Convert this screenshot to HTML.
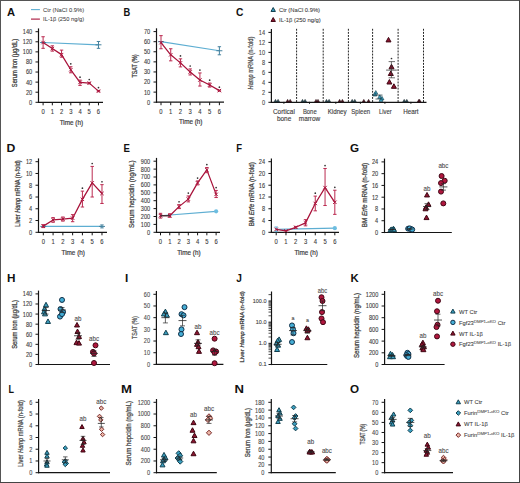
<!DOCTYPE html>
<html><head><meta charset="utf-8"><style>
html,body{margin:0;padding:0;background:#fff;}
svg{display:block;}
text{font-family:"Liberation Sans", sans-serif;}
</style></head><body>
<svg width="520" height="483" viewBox="0 0 520 483">
<rect x="0" y="0" width="520" height="483" fill="#fff"/>
<text transform="translate(6.92 15.7) scale(1.016 1)" x="0" y="0" font-size="11.0" fill="#111" font-weight="bold">A</text>
<text transform="translate(123.57 15.7) scale(0.849 1)" x="0" y="0" font-size="11.0" fill="#111" font-weight="bold">B</text>
<text transform="translate(235.98 15.8) scale(0.931 1)" x="0" y="0" font-size="11.0" fill="#111" font-weight="bold">C</text>
<line x1="31" y1="9.6" x2="39.9" y2="9.6" stroke="#5eaed2" stroke-width="1.1" />
<text x="43.1" y="11.8" font-size="6.1" text-anchor="start" fill="#404040" stroke="#404040" stroke-width="0.05" textLength="41" lengthAdjust="spacingAndGlyphs">Ctr (NaCl 0.9%)</text>
<line x1="31" y1="19.1" x2="39.9" y2="19.1" stroke="#a8123a" stroke-width="1.1" />
<text x="43.1" y="21.3" font-size="6.1" text-anchor="start" fill="#404040" stroke="#404040" stroke-width="0.05" textLength="41" lengthAdjust="spacingAndGlyphs">IL-1β (250 ng/g)</text>
<line x1="38.5" y1="28.4" x2="38.5" y2="102.9" stroke="#141414" stroke-width="1.2" />
<line x1="37.9" y1="102.3" x2="103" y2="102.3" stroke="#141414" stroke-width="1.2" />
<line x1="35.5" y1="102.3" x2="38.5" y2="102.3" stroke="#141414" stroke-width="1.0" />
<text x="32.2" y="104.75" font-size="7.0" text-anchor="end" fill="#3c3c3c" stroke="#3c3c3c" stroke-width="0.12" textLength="3.11" lengthAdjust="spacingAndGlyphs">0</text>
<line x1="35.5" y1="92.21" x2="38.5" y2="92.21" stroke="#141414" stroke-width="1.0" />
<text x="32.2" y="94.66" font-size="7.0" text-anchor="end" fill="#3c3c3c" stroke="#3c3c3c" stroke-width="0.12" textLength="6.23" lengthAdjust="spacingAndGlyphs">20</text>
<line x1="35.5" y1="82.13" x2="38.5" y2="82.13" stroke="#141414" stroke-width="1.0" />
<text x="32.2" y="84.58" font-size="7.0" text-anchor="end" fill="#3c3c3c" stroke="#3c3c3c" stroke-width="0.12" textLength="6.23" lengthAdjust="spacingAndGlyphs">40</text>
<line x1="35.5" y1="72.04" x2="38.5" y2="72.04" stroke="#141414" stroke-width="1.0" />
<text x="32.2" y="74.49" font-size="7.0" text-anchor="end" fill="#3c3c3c" stroke="#3c3c3c" stroke-width="0.12" textLength="6.23" lengthAdjust="spacingAndGlyphs">60</text>
<line x1="35.5" y1="61.96" x2="38.5" y2="61.96" stroke="#141414" stroke-width="1.0" />
<text x="32.2" y="64.41" font-size="7.0" text-anchor="end" fill="#3c3c3c" stroke="#3c3c3c" stroke-width="0.12" textLength="6.23" lengthAdjust="spacingAndGlyphs">80</text>
<line x1="35.5" y1="51.87" x2="38.5" y2="51.87" stroke="#141414" stroke-width="1.0" />
<text x="32.2" y="54.32" font-size="7.0" text-anchor="end" fill="#3c3c3c" stroke="#3c3c3c" stroke-width="0.12" textLength="9.34" lengthAdjust="spacingAndGlyphs">100</text>
<line x1="35.5" y1="41.79" x2="38.5" y2="41.79" stroke="#141414" stroke-width="1.0" />
<text x="32.2" y="44.24" font-size="7.0" text-anchor="end" fill="#3c3c3c" stroke="#3c3c3c" stroke-width="0.12" textLength="9.34" lengthAdjust="spacingAndGlyphs">120</text>
<line x1="35.5" y1="31.7" x2="38.5" y2="31.7" stroke="#141414" stroke-width="1.0" />
<text x="32.2" y="34.15" font-size="7.0" text-anchor="end" fill="#3c3c3c" stroke="#3c3c3c" stroke-width="0.12" textLength="9.34" lengthAdjust="spacingAndGlyphs">140</text>
<line x1="43.1" y1="102.3" x2="43.1" y2="105.3" stroke="#141414" stroke-width="1.0" />
<text x="43.1" y="114.2" font-size="7.0" text-anchor="middle" fill="#3c3c3c" stroke="#3c3c3c" stroke-width="0.12" textLength="3.27" lengthAdjust="spacingAndGlyphs">0</text>
<line x1="52.33" y1="102.3" x2="52.33" y2="105.3" stroke="#141414" stroke-width="1.0" />
<text x="52.33" y="114.2" font-size="7.0" text-anchor="middle" fill="#3c3c3c" stroke="#3c3c3c" stroke-width="0.12" textLength="3.27" lengthAdjust="spacingAndGlyphs">1</text>
<line x1="61.56" y1="102.3" x2="61.56" y2="105.3" stroke="#141414" stroke-width="1.0" />
<text x="61.56" y="114.2" font-size="7.0" text-anchor="middle" fill="#3c3c3c" stroke="#3c3c3c" stroke-width="0.12" textLength="3.27" lengthAdjust="spacingAndGlyphs">2</text>
<line x1="70.79" y1="102.3" x2="70.79" y2="105.3" stroke="#141414" stroke-width="1.0" />
<text x="70.79" y="114.2" font-size="7.0" text-anchor="middle" fill="#3c3c3c" stroke="#3c3c3c" stroke-width="0.12" textLength="3.27" lengthAdjust="spacingAndGlyphs">3</text>
<line x1="80.02" y1="102.3" x2="80.02" y2="105.3" stroke="#141414" stroke-width="1.0" />
<text x="80.02" y="114.2" font-size="7.0" text-anchor="middle" fill="#3c3c3c" stroke="#3c3c3c" stroke-width="0.12" textLength="3.27" lengthAdjust="spacingAndGlyphs">4</text>
<line x1="89.25" y1="102.3" x2="89.25" y2="105.3" stroke="#141414" stroke-width="1.0" />
<text x="89.25" y="114.2" font-size="7.0" text-anchor="middle" fill="#3c3c3c" stroke="#3c3c3c" stroke-width="0.12" textLength="3.27" lengthAdjust="spacingAndGlyphs">5</text>
<line x1="98.48" y1="102.3" x2="98.48" y2="105.3" stroke="#141414" stroke-width="1.0" />
<text x="98.48" y="114.2" font-size="7.0" text-anchor="middle" fill="#3c3c3c" stroke="#3c3c3c" stroke-width="0.12" textLength="3.27" lengthAdjust="spacingAndGlyphs">6</text>
<text x="71.39" y="124.5" font-size="7.0" text-anchor="middle" fill="#3c3c3c" stroke="#3c3c3c" stroke-width="0.2" textLength="23.4" lengthAdjust="spacingAndGlyphs">Time (h)</text>
<text x="14.9" y="64.82" font-size="7.0" text-anchor="middle" fill="#3c3c3c" stroke="#3c3c3c" stroke-width="0.26" textLength="48.5" lengthAdjust="spacingAndGlyphs" transform="rotate(-90 14.9 63)">Serum iron (µg/dL)</text>
<polyline points="43.1,42.54 98.48,44.81" fill="none" stroke="#5eaed2" stroke-width="1.15" stroke-linejoin="round"/>
<line x1="40.1" y1="42.54" x2="46.1" y2="42.54" stroke="#44819e" stroke-width="1.0" />
<line x1="98.48" y1="48.34" x2="98.48" y2="41.48" stroke="#44819e" stroke-width="1.0" />
<line x1="96.78" y1="48.34" x2="100.18" y2="48.34" stroke="#44819e" stroke-width="1.0" />
<line x1="96.78" y1="41.48" x2="100.18" y2="41.48" stroke="#44819e" stroke-width="1.0" />
<line x1="95.48" y1="44.81" x2="101.48" y2="44.81" stroke="#44819e" stroke-width="1.0" />
<polyline points="43.1,42.54 52.33,48.59 61.56,54.64 70.79,69.77 80.02,82.38 89.25,83.14 98.48,91.1" fill="none" stroke="#a8123a" stroke-width="1.25" stroke-linejoin="round"/>
<line x1="43.1" y1="48.34" x2="43.1" y2="36.74" stroke="#bb2a50" stroke-width="1.0" />
<line x1="41.4" y1="48.34" x2="44.8" y2="48.34" stroke="#bb2a50" stroke-width="1.0" />
<line x1="41.4" y1="36.74" x2="44.8" y2="36.74" stroke="#bb2a50" stroke-width="1.0" />
<line x1="41.4" y1="40.84" x2="44.8" y2="44.24" stroke="#a8123a" stroke-width="1.0" />
<line x1="41.4" y1="44.24" x2="44.8" y2="40.84" stroke="#a8123a" stroke-width="1.0" />
<line x1="52.33" y1="51.12" x2="52.33" y2="45.82" stroke="#bb2a50" stroke-width="1.0" />
<line x1="50.63" y1="51.12" x2="54.03" y2="51.12" stroke="#bb2a50" stroke-width="1.0" />
<line x1="50.63" y1="45.82" x2="54.03" y2="45.82" stroke="#bb2a50" stroke-width="1.0" />
<line x1="50.63" y1="46.89" x2="54.03" y2="50.29" stroke="#a8123a" stroke-width="1.0" />
<line x1="50.63" y1="50.29" x2="54.03" y2="46.89" stroke="#a8123a" stroke-width="1.0" />
<line x1="61.56" y1="57.17" x2="61.56" y2="50.11" stroke="#bb2a50" stroke-width="1.0" />
<line x1="59.86" y1="57.17" x2="63.26" y2="57.17" stroke="#bb2a50" stroke-width="1.0" />
<line x1="59.86" y1="50.11" x2="63.26" y2="50.11" stroke="#bb2a50" stroke-width="1.0" />
<line x1="59.86" y1="52.94" x2="63.26" y2="56.34" stroke="#a8123a" stroke-width="1.0" />
<line x1="59.86" y1="56.34" x2="63.26" y2="52.94" stroke="#a8123a" stroke-width="1.0" />
<line x1="70.79" y1="72.8" x2="70.79" y2="66.75" stroke="#bb2a50" stroke-width="1.0" />
<line x1="69.09" y1="72.8" x2="72.49" y2="72.8" stroke="#bb2a50" stroke-width="1.0" />
<line x1="69.09" y1="66.75" x2="72.49" y2="66.75" stroke="#bb2a50" stroke-width="1.0" />
<line x1="69.09" y1="68.07" x2="72.49" y2="71.47" stroke="#a8123a" stroke-width="1.0" />
<line x1="69.09" y1="71.47" x2="72.49" y2="68.07" stroke="#a8123a" stroke-width="1.0" />
<line x1="80.02" y1="85.41" x2="80.02" y2="80.11" stroke="#bb2a50" stroke-width="1.0" />
<line x1="78.32" y1="85.41" x2="81.72" y2="85.41" stroke="#bb2a50" stroke-width="1.0" />
<line x1="78.32" y1="80.11" x2="81.72" y2="80.11" stroke="#bb2a50" stroke-width="1.0" />
<line x1="78.32" y1="80.68" x2="81.72" y2="84.08" stroke="#a8123a" stroke-width="1.0" />
<line x1="78.32" y1="84.08" x2="81.72" y2="80.68" stroke="#a8123a" stroke-width="1.0" />
<line x1="89.25" y1="83.89" x2="89.25" y2="82.38" stroke="#bb2a50" stroke-width="1.0" />
<line x1="87.55" y1="83.89" x2="90.95" y2="83.89" stroke="#bb2a50" stroke-width="1.0" />
<line x1="87.55" y1="82.38" x2="90.95" y2="82.38" stroke="#bb2a50" stroke-width="1.0" />
<line x1="87.55" y1="81.44" x2="90.95" y2="84.84" stroke="#a8123a" stroke-width="1.0" />
<line x1="87.55" y1="84.84" x2="90.95" y2="81.44" stroke="#a8123a" stroke-width="1.0" />
<line x1="98.48" y1="91.71" x2="98.48" y2="90.5" stroke="#bb2a50" stroke-width="1.0" />
<line x1="96.78" y1="91.71" x2="100.18" y2="91.71" stroke="#bb2a50" stroke-width="1.0" />
<line x1="96.78" y1="90.5" x2="100.18" y2="90.5" stroke="#bb2a50" stroke-width="1.0" />
<line x1="96.78" y1="89.4" x2="100.18" y2="92.8" stroke="#a8123a" stroke-width="1.0" />
<line x1="96.78" y1="92.8" x2="100.18" y2="89.4" stroke="#a8123a" stroke-width="1.0" />
<circle cx="70.79" cy="63.85" r="0.85" fill="#333"/>
<circle cx="80.02" cy="77.21" r="0.85" fill="#333"/>
<circle cx="89.25" cy="79.48" r="0.85" fill="#333"/>
<circle cx="98.48" cy="87.6" r="0.85" fill="#333"/>
<line x1="156.5" y1="28.3" x2="156.5" y2="102.8" stroke="#141414" stroke-width="1.2" />
<line x1="155.9" y1="102.2" x2="224" y2="102.2" stroke="#141414" stroke-width="1.2" />
<line x1="153.5" y1="102.2" x2="156.5" y2="102.2" stroke="#141414" stroke-width="1.0" />
<text x="150.2" y="104.65" font-size="7.0" text-anchor="end" fill="#3c3c3c" stroke="#3c3c3c" stroke-width="0.12" textLength="3.11" lengthAdjust="spacingAndGlyphs">0</text>
<line x1="153.5" y1="92.11" x2="156.5" y2="92.11" stroke="#141414" stroke-width="1.0" />
<text x="150.2" y="94.56" font-size="7.0" text-anchor="end" fill="#3c3c3c" stroke="#3c3c3c" stroke-width="0.12" textLength="6.23" lengthAdjust="spacingAndGlyphs">10</text>
<line x1="153.5" y1="82.03" x2="156.5" y2="82.03" stroke="#141414" stroke-width="1.0" />
<text x="150.2" y="84.48" font-size="7.0" text-anchor="end" fill="#3c3c3c" stroke="#3c3c3c" stroke-width="0.12" textLength="6.23" lengthAdjust="spacingAndGlyphs">20</text>
<line x1="153.5" y1="71.94" x2="156.5" y2="71.94" stroke="#141414" stroke-width="1.0" />
<text x="150.2" y="74.39" font-size="7.0" text-anchor="end" fill="#3c3c3c" stroke="#3c3c3c" stroke-width="0.12" textLength="6.23" lengthAdjust="spacingAndGlyphs">30</text>
<line x1="153.5" y1="61.86" x2="156.5" y2="61.86" stroke="#141414" stroke-width="1.0" />
<text x="150.2" y="64.31" font-size="7.0" text-anchor="end" fill="#3c3c3c" stroke="#3c3c3c" stroke-width="0.12" textLength="6.23" lengthAdjust="spacingAndGlyphs">40</text>
<line x1="153.5" y1="51.77" x2="156.5" y2="51.77" stroke="#141414" stroke-width="1.0" />
<text x="150.2" y="54.22" font-size="7.0" text-anchor="end" fill="#3c3c3c" stroke="#3c3c3c" stroke-width="0.12" textLength="6.23" lengthAdjust="spacingAndGlyphs">50</text>
<line x1="153.5" y1="41.69" x2="156.5" y2="41.69" stroke="#141414" stroke-width="1.0" />
<text x="150.2" y="44.14" font-size="7.0" text-anchor="end" fill="#3c3c3c" stroke="#3c3c3c" stroke-width="0.12" textLength="6.23" lengthAdjust="spacingAndGlyphs">60</text>
<line x1="153.5" y1="31.6" x2="156.5" y2="31.6" stroke="#141414" stroke-width="1.0" />
<text x="150.2" y="34.05" font-size="7.0" text-anchor="end" fill="#3c3c3c" stroke="#3c3c3c" stroke-width="0.12" textLength="6.23" lengthAdjust="spacingAndGlyphs">70</text>
<line x1="161" y1="102.2" x2="161" y2="105.2" stroke="#141414" stroke-width="1.0" />
<text x="161" y="114.1" font-size="7.0" text-anchor="middle" fill="#3c3c3c" stroke="#3c3c3c" stroke-width="0.12" textLength="3.27" lengthAdjust="spacingAndGlyphs">0</text>
<line x1="170.73" y1="102.2" x2="170.73" y2="105.2" stroke="#141414" stroke-width="1.0" />
<text x="170.73" y="114.1" font-size="7.0" text-anchor="middle" fill="#3c3c3c" stroke="#3c3c3c" stroke-width="0.12" textLength="3.27" lengthAdjust="spacingAndGlyphs">1</text>
<line x1="180.46" y1="102.2" x2="180.46" y2="105.2" stroke="#141414" stroke-width="1.0" />
<text x="180.46" y="114.1" font-size="7.0" text-anchor="middle" fill="#3c3c3c" stroke="#3c3c3c" stroke-width="0.12" textLength="3.27" lengthAdjust="spacingAndGlyphs">2</text>
<line x1="190.19" y1="102.2" x2="190.19" y2="105.2" stroke="#141414" stroke-width="1.0" />
<text x="190.19" y="114.1" font-size="7.0" text-anchor="middle" fill="#3c3c3c" stroke="#3c3c3c" stroke-width="0.12" textLength="3.27" lengthAdjust="spacingAndGlyphs">3</text>
<line x1="199.92" y1="102.2" x2="199.92" y2="105.2" stroke="#141414" stroke-width="1.0" />
<text x="199.92" y="114.1" font-size="7.0" text-anchor="middle" fill="#3c3c3c" stroke="#3c3c3c" stroke-width="0.12" textLength="3.27" lengthAdjust="spacingAndGlyphs">4</text>
<line x1="209.65" y1="102.2" x2="209.65" y2="105.2" stroke="#141414" stroke-width="1.0" />
<text x="209.65" y="114.1" font-size="7.0" text-anchor="middle" fill="#3c3c3c" stroke="#3c3c3c" stroke-width="0.12" textLength="3.27" lengthAdjust="spacingAndGlyphs">5</text>
<line x1="219.38" y1="102.2" x2="219.38" y2="105.2" stroke="#141414" stroke-width="1.0" />
<text x="219.38" y="114.1" font-size="7.0" text-anchor="middle" fill="#3c3c3c" stroke="#3c3c3c" stroke-width="0.12" textLength="3.27" lengthAdjust="spacingAndGlyphs">6</text>
<text x="190.79" y="124.4" font-size="7.0" text-anchor="middle" fill="#3c3c3c" stroke="#3c3c3c" stroke-width="0.2" textLength="23.4" lengthAdjust="spacingAndGlyphs">Time (h)</text>
<text x="135.6" y="67.82" font-size="7.0" text-anchor="middle" fill="#3c3c3c" stroke="#3c3c3c" stroke-width="0.26" textLength="23" lengthAdjust="spacingAndGlyphs" transform="rotate(-90 135.6 66)">TSAT (%)</text>
<polyline points="161,41.69 219.38,50.76" fill="none" stroke="#5eaed2" stroke-width="1.15" stroke-linejoin="round"/>
<line x1="158" y1="41.69" x2="164" y2="41.69" stroke="#44819e" stroke-width="1.0" />
<line x1="219.38" y1="54.8" x2="219.38" y2="46.73" stroke="#44819e" stroke-width="1.0" />
<line x1="217.68" y1="54.8" x2="221.08" y2="54.8" stroke="#44819e" stroke-width="1.0" />
<line x1="217.68" y1="46.73" x2="221.08" y2="46.73" stroke="#44819e" stroke-width="1.0" />
<line x1="216.38" y1="50.76" x2="222.38" y2="50.76" stroke="#44819e" stroke-width="1.0" />
<polyline points="161,42.69 170.73,54.8 180.46,62.87 190.19,71.94 199.92,80.01 209.65,85.05 219.38,90.6" fill="none" stroke="#a8123a" stroke-width="1.25" stroke-linejoin="round"/>
<line x1="161" y1="48.75" x2="161" y2="35.63" stroke="#bb2a50" stroke-width="1.0" />
<line x1="159.3" y1="48.75" x2="162.7" y2="48.75" stroke="#bb2a50" stroke-width="1.0" />
<line x1="159.3" y1="35.63" x2="162.7" y2="35.63" stroke="#bb2a50" stroke-width="1.0" />
<line x1="159.3" y1="40.99" x2="162.7" y2="44.39" stroke="#a8123a" stroke-width="1.0" />
<line x1="159.3" y1="44.39" x2="162.7" y2="40.99" stroke="#a8123a" stroke-width="1.0" />
<line x1="170.73" y1="60.85" x2="170.73" y2="48.75" stroke="#bb2a50" stroke-width="1.0" />
<line x1="169.03" y1="60.85" x2="172.43" y2="60.85" stroke="#bb2a50" stroke-width="1.0" />
<line x1="169.03" y1="48.75" x2="172.43" y2="48.75" stroke="#bb2a50" stroke-width="1.0" />
<line x1="169.03" y1="53.1" x2="172.43" y2="56.5" stroke="#a8123a" stroke-width="1.0" />
<line x1="169.03" y1="56.5" x2="172.43" y2="53.1" stroke="#a8123a" stroke-width="1.0" />
<line x1="180.46" y1="66.9" x2="180.46" y2="58.83" stroke="#bb2a50" stroke-width="1.0" />
<line x1="178.76" y1="66.9" x2="182.16" y2="66.9" stroke="#bb2a50" stroke-width="1.0" />
<line x1="178.76" y1="58.83" x2="182.16" y2="58.83" stroke="#bb2a50" stroke-width="1.0" />
<line x1="178.76" y1="61.17" x2="182.16" y2="64.57" stroke="#a8123a" stroke-width="1.0" />
<line x1="178.76" y1="64.57" x2="182.16" y2="61.17" stroke="#a8123a" stroke-width="1.0" />
<line x1="190.19" y1="74.97" x2="190.19" y2="68.92" stroke="#bb2a50" stroke-width="1.0" />
<line x1="188.49" y1="74.97" x2="191.89" y2="74.97" stroke="#bb2a50" stroke-width="1.0" />
<line x1="188.49" y1="68.92" x2="191.89" y2="68.92" stroke="#bb2a50" stroke-width="1.0" />
<line x1="188.49" y1="70.24" x2="191.89" y2="73.64" stroke="#a8123a" stroke-width="1.0" />
<line x1="188.49" y1="73.64" x2="191.89" y2="70.24" stroke="#a8123a" stroke-width="1.0" />
<line x1="199.92" y1="86.06" x2="199.92" y2="72.95" stroke="#bb2a50" stroke-width="1.0" />
<line x1="198.22" y1="86.06" x2="201.62" y2="86.06" stroke="#bb2a50" stroke-width="1.0" />
<line x1="198.22" y1="72.95" x2="201.62" y2="72.95" stroke="#bb2a50" stroke-width="1.0" />
<line x1="198.22" y1="78.31" x2="201.62" y2="81.71" stroke="#a8123a" stroke-width="1.0" />
<line x1="198.22" y1="81.71" x2="201.62" y2="78.31" stroke="#a8123a" stroke-width="1.0" />
<line x1="209.65" y1="87.07" x2="209.65" y2="83.04" stroke="#bb2a50" stroke-width="1.0" />
<line x1="207.95" y1="87.07" x2="211.35" y2="87.07" stroke="#bb2a50" stroke-width="1.0" />
<line x1="207.95" y1="83.04" x2="211.35" y2="83.04" stroke="#bb2a50" stroke-width="1.0" />
<line x1="207.95" y1="83.35" x2="211.35" y2="86.75" stroke="#a8123a" stroke-width="1.0" />
<line x1="207.95" y1="86.75" x2="211.35" y2="83.35" stroke="#a8123a" stroke-width="1.0" />
<line x1="219.38" y1="91.11" x2="219.38" y2="90.1" stroke="#bb2a50" stroke-width="1.0" />
<line x1="217.68" y1="91.11" x2="221.08" y2="91.11" stroke="#bb2a50" stroke-width="1.0" />
<line x1="217.68" y1="90.1" x2="221.08" y2="90.1" stroke="#bb2a50" stroke-width="1.0" />
<line x1="217.68" y1="88.9" x2="221.08" y2="92.3" stroke="#a8123a" stroke-width="1.0" />
<line x1="217.68" y1="92.3" x2="221.08" y2="88.9" stroke="#a8123a" stroke-width="1.0" />
<circle cx="180.46" cy="55.93" r="0.85" fill="#333"/>
<circle cx="190.19" cy="66.02" r="0.85" fill="#333"/>
<circle cx="199.92" cy="70.05" r="0.85" fill="#333"/>
<circle cx="209.65" cy="80.14" r="0.85" fill="#333"/>
<circle cx="219.38" cy="87.2" r="0.85" fill="#333"/>
<line x1="271.4" y1="29.1" x2="271.4" y2="102.9" stroke="#141414" stroke-width="1.2" />
<line x1="270.8" y1="102.3" x2="426.5" y2="102.3" stroke="#141414" stroke-width="1.2" />
<line x1="268.4" y1="102.3" x2="271.4" y2="102.3" stroke="#141414" stroke-width="1.0" />
<text x="265.1" y="104.75" font-size="7.0" text-anchor="end" fill="#4a4a4a" stroke="#4a4a4a" stroke-width="0.12" textLength="3.11" lengthAdjust="spacingAndGlyphs">0</text>
<line x1="268.4" y1="92.31" x2="271.4" y2="92.31" stroke="#141414" stroke-width="1.0" />
<text x="265.1" y="94.76" font-size="7.0" text-anchor="end" fill="#4a4a4a" stroke="#4a4a4a" stroke-width="0.12" textLength="3.11" lengthAdjust="spacingAndGlyphs">2</text>
<line x1="268.4" y1="82.33" x2="271.4" y2="82.33" stroke="#141414" stroke-width="1.0" />
<text x="265.1" y="84.78" font-size="7.0" text-anchor="end" fill="#4a4a4a" stroke="#4a4a4a" stroke-width="0.12" textLength="3.11" lengthAdjust="spacingAndGlyphs">4</text>
<line x1="268.4" y1="72.34" x2="271.4" y2="72.34" stroke="#141414" stroke-width="1.0" />
<text x="265.1" y="74.79" font-size="7.0" text-anchor="end" fill="#4a4a4a" stroke="#4a4a4a" stroke-width="0.12" textLength="3.11" lengthAdjust="spacingAndGlyphs">6</text>
<line x1="268.4" y1="62.36" x2="271.4" y2="62.36" stroke="#141414" stroke-width="1.0" />
<text x="265.1" y="64.81" font-size="7.0" text-anchor="end" fill="#4a4a4a" stroke="#4a4a4a" stroke-width="0.12" textLength="3.11" lengthAdjust="spacingAndGlyphs">8</text>
<line x1="268.4" y1="52.37" x2="271.4" y2="52.37" stroke="#141414" stroke-width="1.0" />
<text x="265.1" y="54.82" font-size="7.0" text-anchor="end" fill="#4a4a4a" stroke="#4a4a4a" stroke-width="0.12" textLength="6.23" lengthAdjust="spacingAndGlyphs">10</text>
<line x1="268.4" y1="42.39" x2="271.4" y2="42.39" stroke="#141414" stroke-width="1.0" />
<text x="265.1" y="44.84" font-size="7.0" text-anchor="end" fill="#4a4a4a" stroke="#4a4a4a" stroke-width="0.12" textLength="6.23" lengthAdjust="spacingAndGlyphs">12</text>
<line x1="268.4" y1="32.4" x2="271.4" y2="32.4" stroke="#141414" stroke-width="1.0" />
<text x="265.1" y="34.85" font-size="7.0" text-anchor="end" fill="#4a4a4a" stroke="#4a4a4a" stroke-width="0.12" textLength="6.23" lengthAdjust="spacingAndGlyphs">14</text>
<text x="251" y="64.82" font-size="7.0" text-anchor="middle" fill="#505050" stroke="#505050" stroke-width="0.25" textLength="52.8" lengthAdjust="spacingAndGlyphs" transform="rotate(-90 251 63)"><tspan font-style="italic">Hamp</tspan> mRNA (n-fold)</text>
<line x1="296.6" y1="28.8" x2="296.6" y2="102" stroke="#222" stroke-width="1.0" stroke-dasharray="1.9 1.2"/>
<line x1="323.2" y1="28.8" x2="323.2" y2="102" stroke="#222" stroke-width="1.0" stroke-dasharray="1.9 1.2"/>
<line x1="348.4" y1="28.8" x2="348.4" y2="102" stroke="#222" stroke-width="1.0" stroke-dasharray="1.9 1.2"/>
<line x1="372.6" y1="28.8" x2="372.6" y2="102" stroke="#222" stroke-width="1.0" stroke-dasharray="1.9 1.2"/>
<line x1="398.1" y1="28.8" x2="398.1" y2="102" stroke="#222" stroke-width="1.0" stroke-dasharray="1.9 1.2"/>
<line x1="423.5" y1="28.8" x2="423.5" y2="102" stroke="#222" stroke-width="1.0" stroke-dasharray="1.9 1.2"/>
<line x1="283.9" y1="101.8" x2="283.9" y2="104" stroke="#141414" stroke-width="0.8" />
<line x1="309.5" y1="101.8" x2="309.5" y2="104" stroke="#141414" stroke-width="0.8" />
<line x1="335.8" y1="101.8" x2="335.8" y2="104" stroke="#141414" stroke-width="0.8" />
<line x1="360.4" y1="101.8" x2="360.4" y2="104" stroke="#141414" stroke-width="0.8" />
<line x1="384.9" y1="101.8" x2="384.9" y2="104" stroke="#141414" stroke-width="0.8" />
<line x1="410.9" y1="101.8" x2="410.9" y2="104" stroke="#141414" stroke-width="0.8" />
<text x="283.9" y="113.8" font-size="6.5" text-anchor="middle" fill="#3c3c3c" stroke="#3c3c3c" stroke-width="0.12" textLength="21.9" lengthAdjust="spacingAndGlyphs">Cortical</text>
<text x="284.1" y="121.1" font-size="6.5" text-anchor="middle" fill="#3c3c3c" stroke="#3c3c3c" stroke-width="0.12" textLength="14.4" lengthAdjust="spacingAndGlyphs">bone</text>
<text x="309.8" y="113.8" font-size="6.5" text-anchor="middle" fill="#3c3c3c" stroke="#3c3c3c" stroke-width="0.12" textLength="13.8" lengthAdjust="spacingAndGlyphs">Bone</text>
<text x="309.5" y="121.1" font-size="6.5" text-anchor="middle" fill="#3c3c3c" stroke="#3c3c3c" stroke-width="0.12" textLength="21.4" lengthAdjust="spacingAndGlyphs">marrow</text>
<text x="337.2" y="113.8" font-size="6.5" text-anchor="middle" fill="#3c3c3c" stroke="#3c3c3c" stroke-width="0.12" textLength="19.0" lengthAdjust="spacingAndGlyphs">Kidney</text>
<text x="360.7" y="113.8" font-size="6.5" text-anchor="middle" fill="#3c3c3c" stroke="#3c3c3c" stroke-width="0.12" textLength="18.8" lengthAdjust="spacingAndGlyphs">Spleen</text>
<text x="385.4" y="113.8" font-size="6.5" text-anchor="middle" fill="#3c3c3c" stroke="#3c3c3c" stroke-width="0.12" textLength="12.7" lengthAdjust="spacingAndGlyphs">Liver</text>
<text x="410.9" y="113.8" font-size="6.5" text-anchor="middle" fill="#3c3c3c" stroke="#3c3c3c" stroke-width="0.12" textLength="15.4" lengthAdjust="spacingAndGlyphs">Heart</text>
<polygon points="273.2,7.52 275.4,11.48 271,11.48" fill="#3a9ebf" stroke="#123f4e" stroke-width="1.0" stroke-linejoin="round"/>
<text x="279" y="12" font-size="6.1" text-anchor="start" fill="#3c3c3c" stroke="#3c3c3c" stroke-width="0.08" textLength="41" lengthAdjust="spacingAndGlyphs">Ctr (NaCl 0.9%)</text>
<polygon points="273.2,17.52 275.4,21.48 271,21.48" fill="#8c1430" stroke="#3f0713" stroke-width="1.0" stroke-linejoin="round"/>
<text x="279" y="22" font-size="6.1" text-anchor="start" fill="#3c3c3c" stroke="#3c3c3c" stroke-width="0.08" textLength="41.8" lengthAdjust="spacingAndGlyphs">IL-1β (250 ng/g)</text>
<polygon points="275.5,99.39 276.9,101.91 274.1,101.91" fill="#2c4850" stroke="#1a2a30" stroke-width="0.6" stroke-linejoin="round"/>
<polygon points="278.1,99.39 279.5,101.91 276.7,101.91" fill="#2c4850" stroke="#1a2a30" stroke-width="0.6" stroke-linejoin="round"/>
<polygon points="287.6,99.39 289,101.91 286.2,101.91" fill="#4a1822" stroke="#2a0a10" stroke-width="0.6" stroke-linejoin="round"/>
<polygon points="290.2,99.39 291.6,101.91 288.8,101.91" fill="#4a1822" stroke="#2a0a10" stroke-width="0.6" stroke-linejoin="round"/>
<polygon points="302.5,99.39 303.9,101.91 301.1,101.91" fill="#2c4850" stroke="#1a2a30" stroke-width="0.6" stroke-linejoin="round"/>
<polygon points="305.1,99.39 306.5,101.91 303.7,101.91" fill="#2c4850" stroke="#1a2a30" stroke-width="0.6" stroke-linejoin="round"/>
<polygon points="316,99.39 317.4,101.91 314.6,101.91" fill="#4a1822" stroke="#2a0a10" stroke-width="0.6" stroke-linejoin="round"/>
<polygon points="318,99.39 319.4,101.91 316.6,101.91" fill="#4a1822" stroke="#2a0a10" stroke-width="0.6" stroke-linejoin="round"/>
<polygon points="326.5,99.39 327.9,101.91 325.1,101.91" fill="#2c4850" stroke="#1a2a30" stroke-width="0.6" stroke-linejoin="round"/>
<polygon points="329.1,99.39 330.5,101.91 327.7,101.91" fill="#2c4850" stroke="#1a2a30" stroke-width="0.6" stroke-linejoin="round"/>
<polygon points="339.6,99.39 341,101.91 338.2,101.91" fill="#4a1822" stroke="#2a0a10" stroke-width="0.6" stroke-linejoin="round"/>
<polygon points="342.4,99.39 343.8,101.91 341,101.91" fill="#4a1822" stroke="#2a0a10" stroke-width="0.6" stroke-linejoin="round"/>
<polygon points="352.2,99.39 353.6,101.91 350.8,101.91" fill="#2c4850" stroke="#1a2a30" stroke-width="0.6" stroke-linejoin="round"/>
<polygon points="354.8,99.39 356.2,101.91 353.4,101.91" fill="#2c4850" stroke="#1a2a30" stroke-width="0.6" stroke-linejoin="round"/>
<polygon points="363.8,99.39 365.2,101.91 362.4,101.91" fill="#4a1822" stroke="#2a0a10" stroke-width="0.6" stroke-linejoin="round"/>
<polygon points="368.6,99.39 370,101.91 367.2,101.91" fill="#4a1822" stroke="#2a0a10" stroke-width="0.6" stroke-linejoin="round"/>
<polygon points="404.2,99.39 405.6,101.91 402.8,101.91" fill="#2c4850" stroke="#1a2a30" stroke-width="0.6" stroke-linejoin="round"/>
<polygon points="406.8,99.39 408.2,101.91 405.4,101.91" fill="#2c4850" stroke="#1a2a30" stroke-width="0.6" stroke-linejoin="round"/>
<polygon points="418.8,99.39 420.2,101.91 417.4,101.91" fill="#4a1822" stroke="#2a0a10" stroke-width="0.6" stroke-linejoin="round"/>
<polygon points="419.6,99.39 421,101.91 418.2,101.91" fill="#4a1822" stroke="#2a0a10" stroke-width="0.6" stroke-linejoin="round"/>
<polygon points="375.8,90.55 377.8,94.15 373.8,94.15" fill="#3a9ebf" stroke="#123f4e" stroke-width="0.6" stroke-linejoin="round"/>
<polygon points="374.8,92.45 376.8,96.05 372.8,96.05" fill="#3a9ebf" stroke="#123f4e" stroke-width="0.6" stroke-linejoin="round"/>
<polygon points="379.7,94.85 381.7,98.45 377.7,98.45" fill="#3a9ebf" stroke="#123f4e" stroke-width="0.6" stroke-linejoin="round"/>
<polygon points="382,96.35 384,99.95 380,99.95" fill="#3a9ebf" stroke="#123f4e" stroke-width="0.6" stroke-linejoin="round"/>
<polygon points="381,97.84 383,101.44 379,101.44" fill="#3a9ebf" stroke="#123f4e" stroke-width="0.6" stroke-linejoin="round"/>
<line x1="372.9" y1="95.1" x2="382.5" y2="95.1" stroke="#1d3a44" stroke-width="0.8" />
<line x1="375.5" y1="99" x2="381.5" y2="99" stroke="#1d3a44" stroke-width="0.7" />
<polygon points="388.5,37.4 391,41.9 386,41.9" fill="#8c1430" stroke="#3f0713" stroke-width="1.0" stroke-linejoin="round"/>
<polygon points="391.5,64.3 394,68.8 389,68.8" fill="#8c1430" stroke="#3f0713" stroke-width="1.0" stroke-linejoin="round"/>
<polygon points="390.8,71 393.3,75.5 388.3,75.5" fill="#8c1430" stroke="#3f0713" stroke-width="1.0" stroke-linejoin="round"/>
<polygon points="389.4,79.5 391.9,84 386.9,84" fill="#8c1430" stroke="#3f0713" stroke-width="1.0" stroke-linejoin="round"/>
<polygon points="393.9,83.8 396.4,88.3 391.4,88.3" fill="#8c1430" stroke="#3f0713" stroke-width="1.0" stroke-linejoin="round"/>
<line x1="386.1" y1="70.1" x2="396.8" y2="70.1" stroke="#333" stroke-width="0.8" />
<line x1="391.4" y1="61.6" x2="391.4" y2="77.8" stroke="#333" stroke-width="0.7" />
<line x1="388.6" y1="61.6" x2="395" y2="61.6" stroke="#333" stroke-width="0.7" />
<line x1="388.6" y1="77.8" x2="395" y2="77.8" stroke="#333" stroke-width="0.7" />
<circle cx="391.5" cy="58.5" r="0.85" fill="#333"/>
<text transform="translate(6.58 151.7) scale(1.112 1)" x="0" y="0" font-size="11.0" fill="#111" font-weight="bold">D</text>
<text transform="translate(123.56 151.7) scale(0.875 1)" x="0" y="0" font-size="11.0" fill="#111" font-weight="bold">E</text>
<text transform="translate(236.27 151.7) scale(0.861 1)" x="0" y="0" font-size="11.0" fill="#111" font-weight="bold">F</text>
<text transform="translate(350.12 151.8) scale(1.064 1)" x="0" y="0" font-size="11.0" fill="#111" font-weight="bold">G</text>
<line x1="38.5" y1="158.4" x2="38.5" y2="232.9" stroke="#141414" stroke-width="1.2" />
<line x1="37.9" y1="232.3" x2="107" y2="232.3" stroke="#141414" stroke-width="1.2" />
<line x1="35.5" y1="232.3" x2="38.5" y2="232.3" stroke="#141414" stroke-width="1.0" />
<text x="32.2" y="234.75" font-size="7.0" text-anchor="end" fill="#3c3c3c" stroke="#3c3c3c" stroke-width="0.12" textLength="3.11" lengthAdjust="spacingAndGlyphs">0</text>
<line x1="35.5" y1="220.53" x2="38.5" y2="220.53" stroke="#141414" stroke-width="1.0" />
<text x="32.2" y="222.98" font-size="7.0" text-anchor="end" fill="#3c3c3c" stroke="#3c3c3c" stroke-width="0.12" textLength="3.11" lengthAdjust="spacingAndGlyphs">2</text>
<line x1="35.5" y1="208.77" x2="38.5" y2="208.77" stroke="#141414" stroke-width="1.0" />
<text x="32.2" y="211.22" font-size="7.0" text-anchor="end" fill="#3c3c3c" stroke="#3c3c3c" stroke-width="0.12" textLength="3.11" lengthAdjust="spacingAndGlyphs">4</text>
<line x1="35.5" y1="197" x2="38.5" y2="197" stroke="#141414" stroke-width="1.0" />
<text x="32.2" y="199.45" font-size="7.0" text-anchor="end" fill="#3c3c3c" stroke="#3c3c3c" stroke-width="0.12" textLength="3.11" lengthAdjust="spacingAndGlyphs">6</text>
<line x1="35.5" y1="185.23" x2="38.5" y2="185.23" stroke="#141414" stroke-width="1.0" />
<text x="32.2" y="187.68" font-size="7.0" text-anchor="end" fill="#3c3c3c" stroke="#3c3c3c" stroke-width="0.12" textLength="3.11" lengthAdjust="spacingAndGlyphs">8</text>
<line x1="35.5" y1="173.47" x2="38.5" y2="173.47" stroke="#141414" stroke-width="1.0" />
<text x="32.2" y="175.92" font-size="7.0" text-anchor="end" fill="#3c3c3c" stroke="#3c3c3c" stroke-width="0.12" textLength="6.23" lengthAdjust="spacingAndGlyphs">10</text>
<line x1="35.5" y1="161.7" x2="38.5" y2="161.7" stroke="#141414" stroke-width="1.0" />
<text x="32.2" y="164.15" font-size="7.0" text-anchor="end" fill="#3c3c3c" stroke="#3c3c3c" stroke-width="0.12" textLength="6.23" lengthAdjust="spacingAndGlyphs">12</text>
<line x1="43.3" y1="232.3" x2="43.3" y2="235.3" stroke="#141414" stroke-width="1.0" />
<text x="43.3" y="244.2" font-size="7.0" text-anchor="middle" fill="#3c3c3c" stroke="#3c3c3c" stroke-width="0.12" textLength="3.27" lengthAdjust="spacingAndGlyphs">0</text>
<line x1="53.08" y1="232.3" x2="53.08" y2="235.3" stroke="#141414" stroke-width="1.0" />
<text x="53.08" y="244.2" font-size="7.0" text-anchor="middle" fill="#3c3c3c" stroke="#3c3c3c" stroke-width="0.12" textLength="3.27" lengthAdjust="spacingAndGlyphs">1</text>
<line x1="62.86" y1="232.3" x2="62.86" y2="235.3" stroke="#141414" stroke-width="1.0" />
<text x="62.86" y="244.2" font-size="7.0" text-anchor="middle" fill="#3c3c3c" stroke="#3c3c3c" stroke-width="0.12" textLength="3.27" lengthAdjust="spacingAndGlyphs">2</text>
<line x1="72.64" y1="232.3" x2="72.64" y2="235.3" stroke="#141414" stroke-width="1.0" />
<text x="72.64" y="244.2" font-size="7.0" text-anchor="middle" fill="#3c3c3c" stroke="#3c3c3c" stroke-width="0.12" textLength="3.27" lengthAdjust="spacingAndGlyphs">3</text>
<line x1="82.42" y1="232.3" x2="82.42" y2="235.3" stroke="#141414" stroke-width="1.0" />
<text x="82.42" y="244.2" font-size="7.0" text-anchor="middle" fill="#3c3c3c" stroke="#3c3c3c" stroke-width="0.12" textLength="3.27" lengthAdjust="spacingAndGlyphs">4</text>
<line x1="92.2" y1="232.3" x2="92.2" y2="235.3" stroke="#141414" stroke-width="1.0" />
<text x="92.2" y="244.2" font-size="7.0" text-anchor="middle" fill="#3c3c3c" stroke="#3c3c3c" stroke-width="0.12" textLength="3.27" lengthAdjust="spacingAndGlyphs">5</text>
<line x1="101.98" y1="232.3" x2="101.98" y2="235.3" stroke="#141414" stroke-width="1.0" />
<text x="101.98" y="244.2" font-size="7.0" text-anchor="middle" fill="#3c3c3c" stroke="#3c3c3c" stroke-width="0.12" textLength="3.27" lengthAdjust="spacingAndGlyphs">6</text>
<text x="73.24" y="254.5" font-size="7.0" text-anchor="middle" fill="#3c3c3c" stroke="#3c3c3c" stroke-width="0.2" textLength="23.4" lengthAdjust="spacingAndGlyphs">Time (h)</text>
<text x="17.7" y="195.32" font-size="7.0" text-anchor="middle" fill="#3c3c3c" stroke="#3c3c3c" stroke-width="0.26" textLength="66.5" lengthAdjust="spacingAndGlyphs" transform="rotate(-90 17.7 193.5)">Liver <tspan font-style="italic">Hamp</tspan> mRNA (n-fold)</text>
<polyline points="43.3,226.42 101.98,226.42" fill="none" stroke="#5eaed2" stroke-width="1.15" stroke-linejoin="round"/>
<line x1="40.3" y1="226.42" x2="46.3" y2="226.42" stroke="#44819e" stroke-width="1.0" />
<line x1="101.98" y1="227.89" x2="101.98" y2="224.95" stroke="#44819e" stroke-width="1.0" />
<line x1="100.28" y1="227.89" x2="103.68" y2="227.89" stroke="#44819e" stroke-width="1.0" />
<line x1="100.28" y1="224.95" x2="103.68" y2="224.95" stroke="#44819e" stroke-width="1.0" />
<line x1="98.98" y1="226.42" x2="104.98" y2="226.42" stroke="#44819e" stroke-width="1.0" />
<polyline points="43.3,226.12 53.08,219.94 62.86,219.06 72.64,218.18 82.42,199.35 92.2,182.88 101.98,193.47" fill="none" stroke="#a8123a" stroke-width="1.25" stroke-linejoin="round"/>
<line x1="43.3" y1="227.59" x2="43.3" y2="224.65" stroke="#bb2a50" stroke-width="1.0" />
<line x1="41.6" y1="227.59" x2="45" y2="227.59" stroke="#bb2a50" stroke-width="1.0" />
<line x1="41.6" y1="224.65" x2="45" y2="224.65" stroke="#bb2a50" stroke-width="1.0" />
<line x1="41.6" y1="224.42" x2="45" y2="227.82" stroke="#a8123a" stroke-width="1.0" />
<line x1="41.6" y1="227.82" x2="45" y2="224.42" stroke="#a8123a" stroke-width="1.0" />
<line x1="53.08" y1="222.3" x2="53.08" y2="217.59" stroke="#bb2a50" stroke-width="1.0" />
<line x1="51.38" y1="222.3" x2="54.78" y2="222.3" stroke="#bb2a50" stroke-width="1.0" />
<line x1="51.38" y1="217.59" x2="54.78" y2="217.59" stroke="#bb2a50" stroke-width="1.0" />
<line x1="51.38" y1="218.25" x2="54.78" y2="221.64" stroke="#a8123a" stroke-width="1.0" />
<line x1="51.38" y1="221.64" x2="54.78" y2="218.25" stroke="#a8123a" stroke-width="1.0" />
<line x1="62.86" y1="221.12" x2="62.86" y2="217" stroke="#bb2a50" stroke-width="1.0" />
<line x1="61.16" y1="221.12" x2="64.56" y2="221.12" stroke="#bb2a50" stroke-width="1.0" />
<line x1="61.16" y1="217" x2="64.56" y2="217" stroke="#bb2a50" stroke-width="1.0" />
<line x1="61.16" y1="217.36" x2="64.56" y2="220.76" stroke="#a8123a" stroke-width="1.0" />
<line x1="61.16" y1="220.76" x2="64.56" y2="217.36" stroke="#a8123a" stroke-width="1.0" />
<line x1="72.64" y1="221.71" x2="72.64" y2="214.65" stroke="#bb2a50" stroke-width="1.0" />
<line x1="70.94" y1="221.71" x2="74.34" y2="221.71" stroke="#bb2a50" stroke-width="1.0" />
<line x1="70.94" y1="214.65" x2="74.34" y2="214.65" stroke="#bb2a50" stroke-width="1.0" />
<line x1="70.94" y1="216.48" x2="74.34" y2="219.88" stroke="#a8123a" stroke-width="1.0" />
<line x1="70.94" y1="219.88" x2="74.34" y2="216.48" stroke="#a8123a" stroke-width="1.0" />
<line x1="82.42" y1="207" x2="82.42" y2="191.12" stroke="#bb2a50" stroke-width="1.0" />
<line x1="80.72" y1="207" x2="84.12" y2="207" stroke="#bb2a50" stroke-width="1.0" />
<line x1="80.72" y1="191.12" x2="84.12" y2="191.12" stroke="#bb2a50" stroke-width="1.0" />
<line x1="80.72" y1="197.65" x2="84.12" y2="201.05" stroke="#a8123a" stroke-width="1.0" />
<line x1="80.72" y1="201.05" x2="84.12" y2="197.65" stroke="#a8123a" stroke-width="1.0" />
<line x1="92.2" y1="197" x2="92.2" y2="166.41" stroke="#bb2a50" stroke-width="1.0" />
<line x1="90.5" y1="197" x2="93.9" y2="197" stroke="#bb2a50" stroke-width="1.0" />
<line x1="90.5" y1="166.41" x2="93.9" y2="166.41" stroke="#bb2a50" stroke-width="1.0" />
<line x1="90.5" y1="181.18" x2="93.9" y2="184.58" stroke="#a8123a" stroke-width="1.0" />
<line x1="90.5" y1="184.58" x2="93.9" y2="181.18" stroke="#a8123a" stroke-width="1.0" />
<line x1="101.98" y1="203.47" x2="101.98" y2="184.65" stroke="#bb2a50" stroke-width="1.0" />
<line x1="100.28" y1="203.47" x2="103.68" y2="203.47" stroke="#bb2a50" stroke-width="1.0" />
<line x1="100.28" y1="184.65" x2="103.68" y2="184.65" stroke="#bb2a50" stroke-width="1.0" />
<line x1="100.28" y1="191.77" x2="103.68" y2="195.17" stroke="#a8123a" stroke-width="1.0" />
<line x1="100.28" y1="195.17" x2="103.68" y2="191.77" stroke="#a8123a" stroke-width="1.0" />
<circle cx="82.42" cy="188.22" r="0.85" fill="#333"/>
<circle cx="92.2" cy="163.51" r="0.85" fill="#333"/>
<circle cx="101.98" cy="181.75" r="0.85" fill="#333"/>
<line x1="156.5" y1="157.9" x2="156.5" y2="232.9" stroke="#141414" stroke-width="1.2" />
<line x1="155.9" y1="232.3" x2="220" y2="232.3" stroke="#141414" stroke-width="1.2" />
<line x1="153.5" y1="232.3" x2="156.5" y2="232.3" stroke="#141414" stroke-width="1.0" />
<text x="150.2" y="234.75" font-size="7.0" text-anchor="end" fill="#3c3c3c" stroke="#3c3c3c" stroke-width="0.12" textLength="3.11" lengthAdjust="spacingAndGlyphs">0</text>
<line x1="153.5" y1="224.4" x2="156.5" y2="224.4" stroke="#141414" stroke-width="1.0" />
<text x="150.2" y="226.85" font-size="7.0" text-anchor="end" fill="#3c3c3c" stroke="#3c3c3c" stroke-width="0.12" textLength="9.34" lengthAdjust="spacingAndGlyphs">100</text>
<line x1="153.5" y1="216.5" x2="156.5" y2="216.5" stroke="#141414" stroke-width="1.0" />
<text x="150.2" y="218.95" font-size="7.0" text-anchor="end" fill="#3c3c3c" stroke="#3c3c3c" stroke-width="0.12" textLength="9.34" lengthAdjust="spacingAndGlyphs">200</text>
<line x1="153.5" y1="208.6" x2="156.5" y2="208.6" stroke="#141414" stroke-width="1.0" />
<text x="150.2" y="211.05" font-size="7.0" text-anchor="end" fill="#3c3c3c" stroke="#3c3c3c" stroke-width="0.12" textLength="9.34" lengthAdjust="spacingAndGlyphs">300</text>
<line x1="153.5" y1="200.7" x2="156.5" y2="200.7" stroke="#141414" stroke-width="1.0" />
<text x="150.2" y="203.15" font-size="7.0" text-anchor="end" fill="#3c3c3c" stroke="#3c3c3c" stroke-width="0.12" textLength="9.34" lengthAdjust="spacingAndGlyphs">400</text>
<line x1="153.5" y1="192.8" x2="156.5" y2="192.8" stroke="#141414" stroke-width="1.0" />
<text x="150.2" y="195.25" font-size="7.0" text-anchor="end" fill="#3c3c3c" stroke="#3c3c3c" stroke-width="0.12" textLength="9.34" lengthAdjust="spacingAndGlyphs">500</text>
<line x1="153.5" y1="184.9" x2="156.5" y2="184.9" stroke="#141414" stroke-width="1.0" />
<text x="150.2" y="187.35" font-size="7.0" text-anchor="end" fill="#3c3c3c" stroke="#3c3c3c" stroke-width="0.12" textLength="9.34" lengthAdjust="spacingAndGlyphs">600</text>
<line x1="153.5" y1="177" x2="156.5" y2="177" stroke="#141414" stroke-width="1.0" />
<text x="150.2" y="179.45" font-size="7.0" text-anchor="end" fill="#3c3c3c" stroke="#3c3c3c" stroke-width="0.12" textLength="9.34" lengthAdjust="spacingAndGlyphs">700</text>
<line x1="153.5" y1="169.1" x2="156.5" y2="169.1" stroke="#141414" stroke-width="1.0" />
<text x="150.2" y="171.55" font-size="7.0" text-anchor="end" fill="#3c3c3c" stroke="#3c3c3c" stroke-width="0.12" textLength="9.34" lengthAdjust="spacingAndGlyphs">800</text>
<line x1="153.5" y1="161.2" x2="156.5" y2="161.2" stroke="#141414" stroke-width="1.0" />
<text x="150.2" y="163.65" font-size="7.0" text-anchor="end" fill="#3c3c3c" stroke="#3c3c3c" stroke-width="0.12" textLength="9.34" lengthAdjust="spacingAndGlyphs">900</text>
<line x1="160.5" y1="232.3" x2="160.5" y2="235.3" stroke="#141414" stroke-width="1.0" />
<text x="160.5" y="244.2" font-size="7.0" text-anchor="middle" fill="#3c3c3c" stroke="#3c3c3c" stroke-width="0.12" textLength="3.27" lengthAdjust="spacingAndGlyphs">0</text>
<line x1="169.77" y1="232.3" x2="169.77" y2="235.3" stroke="#141414" stroke-width="1.0" />
<text x="169.77" y="244.2" font-size="7.0" text-anchor="middle" fill="#3c3c3c" stroke="#3c3c3c" stroke-width="0.12" textLength="3.27" lengthAdjust="spacingAndGlyphs">1</text>
<line x1="179.04" y1="232.3" x2="179.04" y2="235.3" stroke="#141414" stroke-width="1.0" />
<text x="179.04" y="244.2" font-size="7.0" text-anchor="middle" fill="#3c3c3c" stroke="#3c3c3c" stroke-width="0.12" textLength="3.27" lengthAdjust="spacingAndGlyphs">2</text>
<line x1="188.31" y1="232.3" x2="188.31" y2="235.3" stroke="#141414" stroke-width="1.0" />
<text x="188.31" y="244.2" font-size="7.0" text-anchor="middle" fill="#3c3c3c" stroke="#3c3c3c" stroke-width="0.12" textLength="3.27" lengthAdjust="spacingAndGlyphs">3</text>
<line x1="197.58" y1="232.3" x2="197.58" y2="235.3" stroke="#141414" stroke-width="1.0" />
<text x="197.58" y="244.2" font-size="7.0" text-anchor="middle" fill="#3c3c3c" stroke="#3c3c3c" stroke-width="0.12" textLength="3.27" lengthAdjust="spacingAndGlyphs">4</text>
<line x1="206.85" y1="232.3" x2="206.85" y2="235.3" stroke="#141414" stroke-width="1.0" />
<text x="206.85" y="244.2" font-size="7.0" text-anchor="middle" fill="#3c3c3c" stroke="#3c3c3c" stroke-width="0.12" textLength="3.27" lengthAdjust="spacingAndGlyphs">5</text>
<line x1="216.12" y1="232.3" x2="216.12" y2="235.3" stroke="#141414" stroke-width="1.0" />
<text x="216.12" y="244.2" font-size="7.0" text-anchor="middle" fill="#3c3c3c" stroke="#3c3c3c" stroke-width="0.12" textLength="3.27" lengthAdjust="spacingAndGlyphs">6</text>
<text x="188.91" y="254.5" font-size="7.0" text-anchor="middle" fill="#3c3c3c" stroke="#3c3c3c" stroke-width="0.2" textLength="23.4" lengthAdjust="spacingAndGlyphs">Time (h)</text>
<text x="132.2" y="196.02" font-size="7.0" text-anchor="middle" fill="#3c3c3c" stroke="#3c3c3c" stroke-width="0.26" textLength="67.7" lengthAdjust="spacingAndGlyphs" transform="rotate(-90 132.2 194.2)">Serum hepcidin (ng/mL)</text>
<polyline points="160.5,215.71 216.12,211.37" fill="none" stroke="#5eaed2" stroke-width="1.15" stroke-linejoin="round"/>
<circle cx="216.12" cy="211.37" r="2.1" fill="#6dbde0"/>
<polyline points="160.5,215.71 169.77,215.71 179.04,206.62 188.31,199.12 197.58,182.93 206.85,169.89 216.12,194.38" fill="none" stroke="#a8123a" stroke-width="1.25" stroke-linejoin="round"/>
<line x1="160.5" y1="218.08" x2="160.5" y2="213.34" stroke="#bb2a50" stroke-width="1.0" />
<line x1="158.8" y1="218.08" x2="162.2" y2="218.08" stroke="#bb2a50" stroke-width="1.0" />
<line x1="158.8" y1="213.34" x2="162.2" y2="213.34" stroke="#bb2a50" stroke-width="1.0" />
<line x1="158.8" y1="214.01" x2="162.2" y2="217.41" stroke="#a8123a" stroke-width="1.0" />
<line x1="158.8" y1="217.41" x2="162.2" y2="214.01" stroke="#a8123a" stroke-width="1.0" />
<line x1="169.77" y1="217.29" x2="169.77" y2="213.74" stroke="#bb2a50" stroke-width="1.0" />
<line x1="168.07" y1="217.29" x2="171.47" y2="217.29" stroke="#bb2a50" stroke-width="1.0" />
<line x1="168.07" y1="213.74" x2="171.47" y2="213.74" stroke="#bb2a50" stroke-width="1.0" />
<line x1="168.07" y1="214.01" x2="171.47" y2="217.41" stroke="#a8123a" stroke-width="1.0" />
<line x1="168.07" y1="217.41" x2="171.47" y2="214.01" stroke="#a8123a" stroke-width="1.0" />
<line x1="179.04" y1="208.6" x2="179.04" y2="204.65" stroke="#bb2a50" stroke-width="1.0" />
<line x1="177.34" y1="208.6" x2="180.74" y2="208.6" stroke="#bb2a50" stroke-width="1.0" />
<line x1="177.34" y1="204.65" x2="180.74" y2="204.65" stroke="#bb2a50" stroke-width="1.0" />
<line x1="177.34" y1="204.93" x2="180.74" y2="208.32" stroke="#a8123a" stroke-width="1.0" />
<line x1="177.34" y1="208.32" x2="180.74" y2="204.93" stroke="#a8123a" stroke-width="1.0" />
<line x1="188.31" y1="201.88" x2="188.31" y2="195.96" stroke="#bb2a50" stroke-width="1.0" />
<line x1="186.61" y1="201.88" x2="190.01" y2="201.88" stroke="#bb2a50" stroke-width="1.0" />
<line x1="186.61" y1="195.96" x2="190.01" y2="195.96" stroke="#bb2a50" stroke-width="1.0" />
<line x1="186.61" y1="197.42" x2="190.01" y2="200.82" stroke="#a8123a" stroke-width="1.0" />
<line x1="186.61" y1="200.82" x2="190.01" y2="197.42" stroke="#a8123a" stroke-width="1.0" />
<line x1="197.58" y1="184.9" x2="197.58" y2="180.95" stroke="#bb2a50" stroke-width="1.0" />
<line x1="195.88" y1="184.9" x2="199.28" y2="184.9" stroke="#bb2a50" stroke-width="1.0" />
<line x1="195.88" y1="180.95" x2="199.28" y2="180.95" stroke="#bb2a50" stroke-width="1.0" />
<line x1="195.88" y1="181.23" x2="199.28" y2="184.62" stroke="#a8123a" stroke-width="1.0" />
<line x1="195.88" y1="184.62" x2="199.28" y2="181.23" stroke="#a8123a" stroke-width="1.0" />
<line x1="206.85" y1="172.66" x2="206.85" y2="167.52" stroke="#bb2a50" stroke-width="1.0" />
<line x1="205.15" y1="172.66" x2="208.55" y2="172.66" stroke="#bb2a50" stroke-width="1.0" />
<line x1="205.15" y1="167.52" x2="208.55" y2="167.52" stroke="#bb2a50" stroke-width="1.0" />
<line x1="205.15" y1="168.19" x2="208.55" y2="171.59" stroke="#a8123a" stroke-width="1.0" />
<line x1="205.15" y1="171.59" x2="208.55" y2="168.19" stroke="#a8123a" stroke-width="1.0" />
<line x1="216.12" y1="197.54" x2="216.12" y2="190.43" stroke="#bb2a50" stroke-width="1.0" />
<line x1="214.42" y1="197.54" x2="217.82" y2="197.54" stroke="#bb2a50" stroke-width="1.0" />
<line x1="214.42" y1="190.43" x2="217.82" y2="190.43" stroke="#bb2a50" stroke-width="1.0" />
<line x1="214.42" y1="192.68" x2="217.82" y2="196.08" stroke="#a8123a" stroke-width="1.0" />
<line x1="214.42" y1="196.08" x2="217.82" y2="192.68" stroke="#a8123a" stroke-width="1.0" />
<circle cx="179.04" cy="201.75" r="0.85" fill="#333"/>
<circle cx="188.31" cy="193.06" r="0.85" fill="#333"/>
<circle cx="197.58" cy="178.05" r="0.85" fill="#333"/>
<circle cx="206.85" cy="164.62" r="0.85" fill="#333"/>
<circle cx="216.12" cy="187.53" r="0.85" fill="#333"/>
<line x1="160.5" y1="215.71" x2="169.77" y2="215.71" stroke="#3a3438" stroke-width="1.2" />
<line x1="271.4" y1="158.4" x2="271.4" y2="232.9" stroke="#141414" stroke-width="1.2" />
<line x1="270.8" y1="232.3" x2="339" y2="232.3" stroke="#141414" stroke-width="1.2" />
<line x1="268.4" y1="232.3" x2="271.4" y2="232.3" stroke="#141414" stroke-width="1.0" />
<text x="265.1" y="234.75" font-size="7.0" text-anchor="end" fill="#3c3c3c" stroke="#3c3c3c" stroke-width="0.12" textLength="3.11" lengthAdjust="spacingAndGlyphs">0</text>
<line x1="268.4" y1="220.53" x2="271.4" y2="220.53" stroke="#141414" stroke-width="1.0" />
<text x="265.1" y="222.98" font-size="7.0" text-anchor="end" fill="#3c3c3c" stroke="#3c3c3c" stroke-width="0.12" textLength="3.11" lengthAdjust="spacingAndGlyphs">4</text>
<line x1="268.4" y1="208.77" x2="271.4" y2="208.77" stroke="#141414" stroke-width="1.0" />
<text x="265.1" y="211.22" font-size="7.0" text-anchor="end" fill="#3c3c3c" stroke="#3c3c3c" stroke-width="0.12" textLength="3.11" lengthAdjust="spacingAndGlyphs">8</text>
<line x1="268.4" y1="197" x2="271.4" y2="197" stroke="#141414" stroke-width="1.0" />
<text x="265.1" y="199.45" font-size="7.0" text-anchor="end" fill="#3c3c3c" stroke="#3c3c3c" stroke-width="0.12" textLength="6.23" lengthAdjust="spacingAndGlyphs">12</text>
<line x1="268.4" y1="185.23" x2="271.4" y2="185.23" stroke="#141414" stroke-width="1.0" />
<text x="265.1" y="187.68" font-size="7.0" text-anchor="end" fill="#3c3c3c" stroke="#3c3c3c" stroke-width="0.12" textLength="6.23" lengthAdjust="spacingAndGlyphs">16</text>
<line x1="268.4" y1="173.47" x2="271.4" y2="173.47" stroke="#141414" stroke-width="1.0" />
<text x="265.1" y="175.92" font-size="7.0" text-anchor="end" fill="#3c3c3c" stroke="#3c3c3c" stroke-width="0.12" textLength="6.23" lengthAdjust="spacingAndGlyphs">20</text>
<line x1="268.4" y1="161.7" x2="271.4" y2="161.7" stroke="#141414" stroke-width="1.0" />
<text x="265.1" y="164.15" font-size="7.0" text-anchor="end" fill="#3c3c3c" stroke="#3c3c3c" stroke-width="0.12" textLength="6.23" lengthAdjust="spacingAndGlyphs">24</text>
<line x1="276.2" y1="232.3" x2="276.2" y2="235.3" stroke="#141414" stroke-width="1.0" />
<text x="276.2" y="244.2" font-size="7.0" text-anchor="middle" fill="#3c3c3c" stroke="#3c3c3c" stroke-width="0.12" textLength="3.27" lengthAdjust="spacingAndGlyphs">0</text>
<line x1="285.97" y1="232.3" x2="285.97" y2="235.3" stroke="#141414" stroke-width="1.0" />
<text x="285.97" y="244.2" font-size="7.0" text-anchor="middle" fill="#3c3c3c" stroke="#3c3c3c" stroke-width="0.12" textLength="3.27" lengthAdjust="spacingAndGlyphs">1</text>
<line x1="295.74" y1="232.3" x2="295.74" y2="235.3" stroke="#141414" stroke-width="1.0" />
<text x="295.74" y="244.2" font-size="7.0" text-anchor="middle" fill="#3c3c3c" stroke="#3c3c3c" stroke-width="0.12" textLength="3.27" lengthAdjust="spacingAndGlyphs">2</text>
<line x1="305.51" y1="232.3" x2="305.51" y2="235.3" stroke="#141414" stroke-width="1.0" />
<text x="305.51" y="244.2" font-size="7.0" text-anchor="middle" fill="#3c3c3c" stroke="#3c3c3c" stroke-width="0.12" textLength="3.27" lengthAdjust="spacingAndGlyphs">3</text>
<line x1="315.28" y1="232.3" x2="315.28" y2="235.3" stroke="#141414" stroke-width="1.0" />
<text x="315.28" y="244.2" font-size="7.0" text-anchor="middle" fill="#3c3c3c" stroke="#3c3c3c" stroke-width="0.12" textLength="3.27" lengthAdjust="spacingAndGlyphs">4</text>
<line x1="325.05" y1="232.3" x2="325.05" y2="235.3" stroke="#141414" stroke-width="1.0" />
<text x="325.05" y="244.2" font-size="7.0" text-anchor="middle" fill="#3c3c3c" stroke="#3c3c3c" stroke-width="0.12" textLength="3.27" lengthAdjust="spacingAndGlyphs">5</text>
<line x1="334.82" y1="232.3" x2="334.82" y2="235.3" stroke="#141414" stroke-width="1.0" />
<text x="334.82" y="244.2" font-size="7.0" text-anchor="middle" fill="#3c3c3c" stroke="#3c3c3c" stroke-width="0.12" textLength="3.27" lengthAdjust="spacingAndGlyphs">6</text>
<text x="306.11" y="254.5" font-size="7.0" text-anchor="middle" fill="#3c3c3c" stroke="#3c3c3c" stroke-width="0.2" textLength="23.4" lengthAdjust="spacingAndGlyphs">Time (h)</text>
<text x="252" y="196.02" font-size="7.0" text-anchor="middle" fill="#3c3c3c" stroke="#3c3c3c" stroke-width="0.26" textLength="64.3" lengthAdjust="spacingAndGlyphs" transform="rotate(-90 252 194.2)">BM <tspan font-style="italic">Erfe</tspan> mRNA (n-fold)</text>
<polyline points="276.2,229.36 334.82,228.18" fill="none" stroke="#5eaed2" stroke-width="1.15" stroke-linejoin="round"/>
<line x1="276.2" y1="231.71" x2="276.2" y2="227" stroke="#5eaed2" stroke-width="1.0" />
<line x1="274.5" y1="231.71" x2="277.9" y2="231.71" stroke="#5eaed2" stroke-width="1.0" />
<line x1="274.5" y1="227" x2="277.9" y2="227" stroke="#5eaed2" stroke-width="1.0" />
<circle cx="334.82" cy="228.18" r="2.1" fill="#6dbde0"/>
<polyline points="276.2,229.36 285.97,230.83 295.74,227.3 305.51,222.89 315.28,203.47 325.05,187.59 334.82,202.3" fill="none" stroke="#a8123a" stroke-width="1.25" stroke-linejoin="round"/>
<line x1="274.5" y1="227.66" x2="277.9" y2="231.06" stroke="#a8123a" stroke-width="1.0" />
<line x1="274.5" y1="231.06" x2="277.9" y2="227.66" stroke="#a8123a" stroke-width="1.0" />
<line x1="284.27" y1="229.13" x2="287.67" y2="232.53" stroke="#a8123a" stroke-width="1.0" />
<line x1="284.27" y1="232.53" x2="287.67" y2="229.13" stroke="#a8123a" stroke-width="1.0" />
<line x1="295.74" y1="228.18" x2="295.74" y2="226.42" stroke="#bb2a50" stroke-width="1.0" />
<line x1="294.04" y1="228.18" x2="297.44" y2="228.18" stroke="#bb2a50" stroke-width="1.0" />
<line x1="294.04" y1="226.42" x2="297.44" y2="226.42" stroke="#bb2a50" stroke-width="1.0" />
<line x1="294.04" y1="225.6" x2="297.44" y2="229" stroke="#a8123a" stroke-width="1.0" />
<line x1="294.04" y1="229" x2="297.44" y2="225.6" stroke="#a8123a" stroke-width="1.0" />
<line x1="305.51" y1="225.83" x2="305.51" y2="219.65" stroke="#bb2a50" stroke-width="1.0" />
<line x1="303.81" y1="225.83" x2="307.21" y2="225.83" stroke="#bb2a50" stroke-width="1.0" />
<line x1="303.81" y1="219.65" x2="307.21" y2="219.65" stroke="#bb2a50" stroke-width="1.0" />
<line x1="303.81" y1="221.19" x2="307.21" y2="224.59" stroke="#a8123a" stroke-width="1.0" />
<line x1="303.81" y1="224.59" x2="307.21" y2="221.19" stroke="#a8123a" stroke-width="1.0" />
<line x1="315.28" y1="210.83" x2="315.28" y2="196.12" stroke="#bb2a50" stroke-width="1.0" />
<line x1="313.58" y1="210.83" x2="316.98" y2="210.83" stroke="#bb2a50" stroke-width="1.0" />
<line x1="313.58" y1="196.12" x2="316.98" y2="196.12" stroke="#bb2a50" stroke-width="1.0" />
<line x1="313.58" y1="201.77" x2="316.98" y2="205.17" stroke="#a8123a" stroke-width="1.0" />
<line x1="313.58" y1="205.17" x2="316.98" y2="201.77" stroke="#a8123a" stroke-width="1.0" />
<line x1="325.05" y1="205.53" x2="325.05" y2="168.47" stroke="#bb2a50" stroke-width="1.0" />
<line x1="323.35" y1="205.53" x2="326.75" y2="205.53" stroke="#bb2a50" stroke-width="1.0" />
<line x1="323.35" y1="168.47" x2="326.75" y2="168.47" stroke="#bb2a50" stroke-width="1.0" />
<line x1="323.35" y1="185.89" x2="326.75" y2="189.29" stroke="#a8123a" stroke-width="1.0" />
<line x1="323.35" y1="189.29" x2="326.75" y2="185.89" stroke="#a8123a" stroke-width="1.0" />
<line x1="334.82" y1="214.36" x2="334.82" y2="190.23" stroke="#bb2a50" stroke-width="1.0" />
<line x1="333.12" y1="214.36" x2="336.52" y2="214.36" stroke="#bb2a50" stroke-width="1.0" />
<line x1="333.12" y1="190.23" x2="336.52" y2="190.23" stroke="#bb2a50" stroke-width="1.0" />
<line x1="333.12" y1="200.6" x2="336.52" y2="204" stroke="#a8123a" stroke-width="1.0" />
<line x1="333.12" y1="204" x2="336.52" y2="200.6" stroke="#a8123a" stroke-width="1.0" />
<circle cx="315.28" cy="193.22" r="0.85" fill="#333"/>
<circle cx="325.05" cy="165.57" r="0.85" fill="#333"/>
<circle cx="334.82" cy="187.33" r="0.85" fill="#333"/>
<line x1="384.5" y1="158.6" x2="384.5" y2="233.1" stroke="#141414" stroke-width="1.2" />
<line x1="383.9" y1="232.5" x2="451.8" y2="232.5" stroke="#141414" stroke-width="1.2" />
<line x1="381.5" y1="232.5" x2="384.5" y2="232.5" stroke="#141414" stroke-width="1.0" />
<text x="378.2" y="234.95" font-size="7.0" text-anchor="end" fill="#3c3c3c" stroke="#3c3c3c" stroke-width="0.12" textLength="3.11" lengthAdjust="spacingAndGlyphs">0</text>
<line x1="381.5" y1="220.73" x2="384.5" y2="220.73" stroke="#141414" stroke-width="1.0" />
<text x="378.2" y="223.18" font-size="7.0" text-anchor="end" fill="#3c3c3c" stroke="#3c3c3c" stroke-width="0.12" textLength="3.11" lengthAdjust="spacingAndGlyphs">4</text>
<line x1="381.5" y1="208.97" x2="384.5" y2="208.97" stroke="#141414" stroke-width="1.0" />
<text x="378.2" y="211.42" font-size="7.0" text-anchor="end" fill="#3c3c3c" stroke="#3c3c3c" stroke-width="0.12" textLength="3.11" lengthAdjust="spacingAndGlyphs">8</text>
<line x1="381.5" y1="197.2" x2="384.5" y2="197.2" stroke="#141414" stroke-width="1.0" />
<text x="378.2" y="199.65" font-size="7.0" text-anchor="end" fill="#3c3c3c" stroke="#3c3c3c" stroke-width="0.12" textLength="6.23" lengthAdjust="spacingAndGlyphs">12</text>
<line x1="381.5" y1="185.43" x2="384.5" y2="185.43" stroke="#141414" stroke-width="1.0" />
<text x="378.2" y="187.88" font-size="7.0" text-anchor="end" fill="#3c3c3c" stroke="#3c3c3c" stroke-width="0.12" textLength="6.23" lengthAdjust="spacingAndGlyphs">16</text>
<line x1="381.5" y1="173.67" x2="384.5" y2="173.67" stroke="#141414" stroke-width="1.0" />
<text x="378.2" y="176.12" font-size="7.0" text-anchor="end" fill="#3c3c3c" stroke="#3c3c3c" stroke-width="0.12" textLength="6.23" lengthAdjust="spacingAndGlyphs">20</text>
<line x1="381.5" y1="161.9" x2="384.5" y2="161.9" stroke="#141414" stroke-width="1.0" />
<text x="378.2" y="164.35" font-size="7.0" text-anchor="end" fill="#3c3c3c" stroke="#3c3c3c" stroke-width="0.12" textLength="6.23" lengthAdjust="spacingAndGlyphs">24</text>
<text x="364.7" y="196.82" font-size="7.0" text-anchor="middle" fill="#3c3c3c" stroke="#3c3c3c" stroke-width="0.26" textLength="64.3" lengthAdjust="spacingAndGlyphs" transform="rotate(-90 364.7 195)">BM <tspan font-style="italic">Erfe</tspan> mRNA (n-fold)</text>
<polygon points="390.5,227.45 393,231.95 388,231.95" fill="#3a9ebf" stroke="#123f4e" stroke-width="1.0" stroke-linejoin="round"/>
<polygon points="393.5,226.27 396,230.77 391,230.77" fill="#3a9ebf" stroke="#123f4e" stroke-width="1.0" stroke-linejoin="round"/>
<polygon points="392,226.86 394.5,231.36 389.5,231.36" fill="#3a9ebf" stroke="#123f4e" stroke-width="1.0" stroke-linejoin="round"/>
<polygon points="394,227.15 396.5,231.65 391.5,231.65" fill="#3a9ebf" stroke="#123f4e" stroke-width="1.0" stroke-linejoin="round"/>
<line x1="388" y1="229.56" x2="396" y2="229.56" stroke="#262626" stroke-width="0.8" />
<line x1="392" y1="229.85" x2="392" y2="229.26" stroke="#262626" stroke-width="0.7" />
<line x1="390" y1="229.85" x2="394" y2="229.85" stroke="#262626" stroke-width="0.7" />
<line x1="390" y1="229.26" x2="394" y2="229.26" stroke="#262626" stroke-width="0.7" />
<circle cx="408.2" cy="228.68" r="2.5" fill="#45aed6" stroke="#0f2f48" stroke-width="1.0"/>
<circle cx="411.2" cy="229.26" r="2.5" fill="#45aed6" stroke="#0f2f48" stroke-width="1.0"/>
<circle cx="409.7" cy="228.38" r="2.5" fill="#45aed6" stroke="#0f2f48" stroke-width="1.0"/>
<circle cx="412.2" cy="229.56" r="2.5" fill="#45aed6" stroke="#0f2f48" stroke-width="1.0"/>
<line x1="405.7" y1="228.97" x2="413.7" y2="228.97" stroke="#262626" stroke-width="0.8" />
<line x1="409.7" y1="229.26" x2="409.7" y2="228.68" stroke="#262626" stroke-width="0.7" />
<line x1="407.7" y1="229.26" x2="411.7" y2="229.26" stroke="#262626" stroke-width="0.7" />
<line x1="407.7" y1="228.68" x2="411.7" y2="228.68" stroke="#262626" stroke-width="0.7" />
<polygon points="427,192.44 429.5,196.94 424.5,196.94" fill="#8c1430" stroke="#3f0713" stroke-width="1.0" stroke-linejoin="round"/>
<polygon points="428.5,201.85 431,206.35 426,206.35" fill="#8c1430" stroke="#3f0713" stroke-width="1.0" stroke-linejoin="round"/>
<polygon points="426,204.8 428.5,209.3 423.5,209.3" fill="#8c1430" stroke="#3f0713" stroke-width="1.0" stroke-linejoin="round"/>
<polygon points="425.5,206.27 428,210.77 423,210.77" fill="#8c1430" stroke="#3f0713" stroke-width="1.0" stroke-linejoin="round"/>
<polygon points="426.5,215.09 429,219.59 424,219.59" fill="#8c1430" stroke="#3f0713" stroke-width="1.0" stroke-linejoin="round"/>
<line x1="423" y1="206.61" x2="431" y2="206.61" stroke="#262626" stroke-width="0.8" />
<line x1="427" y1="209.56" x2="427" y2="203.67" stroke="#262626" stroke-width="0.7" />
<line x1="424.5" y1="209.56" x2="429.5" y2="209.56" stroke="#262626" stroke-width="0.7" />
<line x1="424.5" y1="203.67" x2="429.5" y2="203.67" stroke="#262626" stroke-width="0.7" />
<text x="427" y="190.8" font-size="6.820000000000001" text-anchor="middle" fill="#4a4a4a" stroke="#4a4a4a" stroke-width="0.1" textLength="6.89" lengthAdjust="spacingAndGlyphs">ab</text>
<circle cx="441.6" cy="176.02" r="2.5" fill="#b0173e" stroke="#420816" stroke-width="1.0"/>
<circle cx="444.7" cy="180.73" r="2.5" fill="#b0173e" stroke="#420816" stroke-width="1.0"/>
<circle cx="441" cy="183.08" r="2.5" fill="#b0173e" stroke="#420816" stroke-width="1.0"/>
<circle cx="441" cy="191.61" r="2.5" fill="#b0173e" stroke="#420816" stroke-width="1.0"/>
<circle cx="443.3" cy="203.38" r="2.5" fill="#b0173e" stroke="#420816" stroke-width="1.0"/>
<line x1="439.4" y1="186.9" x2="447.4" y2="186.9" stroke="#262626" stroke-width="0.8" />
<line x1="443.4" y1="190.14" x2="443.4" y2="183.67" stroke="#262626" stroke-width="0.7" />
<line x1="440.9" y1="190.14" x2="445.9" y2="190.14" stroke="#262626" stroke-width="0.7" />
<line x1="440.9" y1="183.67" x2="445.9" y2="183.67" stroke="#262626" stroke-width="0.7" />
<text x="443.4" y="167.6" font-size="6.820000000000001" text-anchor="middle" fill="#4a4a4a" stroke="#4a4a4a" stroke-width="0.1" textLength="9.99" lengthAdjust="spacingAndGlyphs">abc</text>
<text transform="translate(7.01 281.7) scale(1.067 1)" x="0" y="0" font-size="11.0" fill="#111" font-weight="bold">H</text>
<text transform="translate(125.11 281.7) scale(1.073 1)" x="0" y="0" font-size="11.0" fill="#111" font-weight="bold">I</text>
<text transform="translate(236.35 281.7) scale(0.923 1)" x="0" y="0" font-size="11.0" fill="#111" font-weight="bold">J</text>
<text transform="translate(350.44 281.7) scale(1.029 1)" x="0" y="0" font-size="11.0" fill="#111" font-weight="bold">K</text>
<line x1="38.5" y1="290.6" x2="38.5" y2="365.1" stroke="#141414" stroke-width="1.2" />
<line x1="37.9" y1="364.5" x2="110" y2="364.5" stroke="#141414" stroke-width="1.2" />
<line x1="35.5" y1="364.5" x2="38.5" y2="364.5" stroke="#141414" stroke-width="1.0" />
<text x="32.2" y="366.95" font-size="7.0" text-anchor="end" fill="#3c3c3c" stroke="#3c3c3c" stroke-width="0.12" textLength="3.11" lengthAdjust="spacingAndGlyphs">0</text>
<line x1="35.5" y1="354.41" x2="38.5" y2="354.41" stroke="#141414" stroke-width="1.0" />
<text x="32.2" y="356.86" font-size="7.0" text-anchor="end" fill="#3c3c3c" stroke="#3c3c3c" stroke-width="0.12" textLength="6.23" lengthAdjust="spacingAndGlyphs">20</text>
<line x1="35.5" y1="344.33" x2="38.5" y2="344.33" stroke="#141414" stroke-width="1.0" />
<text x="32.2" y="346.78" font-size="7.0" text-anchor="end" fill="#3c3c3c" stroke="#3c3c3c" stroke-width="0.12" textLength="6.23" lengthAdjust="spacingAndGlyphs">40</text>
<line x1="35.5" y1="334.24" x2="38.5" y2="334.24" stroke="#141414" stroke-width="1.0" />
<text x="32.2" y="336.69" font-size="7.0" text-anchor="end" fill="#3c3c3c" stroke="#3c3c3c" stroke-width="0.12" textLength="6.23" lengthAdjust="spacingAndGlyphs">60</text>
<line x1="35.5" y1="324.16" x2="38.5" y2="324.16" stroke="#141414" stroke-width="1.0" />
<text x="32.2" y="326.61" font-size="7.0" text-anchor="end" fill="#3c3c3c" stroke="#3c3c3c" stroke-width="0.12" textLength="6.23" lengthAdjust="spacingAndGlyphs">80</text>
<line x1="35.5" y1="314.07" x2="38.5" y2="314.07" stroke="#141414" stroke-width="1.0" />
<text x="32.2" y="316.52" font-size="7.0" text-anchor="end" fill="#3c3c3c" stroke="#3c3c3c" stroke-width="0.12" textLength="9.34" lengthAdjust="spacingAndGlyphs">100</text>
<line x1="35.5" y1="303.99" x2="38.5" y2="303.99" stroke="#141414" stroke-width="1.0" />
<text x="32.2" y="306.44" font-size="7.0" text-anchor="end" fill="#3c3c3c" stroke="#3c3c3c" stroke-width="0.12" textLength="9.34" lengthAdjust="spacingAndGlyphs">120</text>
<line x1="35.5" y1="293.9" x2="38.5" y2="293.9" stroke="#141414" stroke-width="1.0" />
<text x="32.2" y="296.35" font-size="7.0" text-anchor="end" fill="#3c3c3c" stroke="#3c3c3c" stroke-width="0.12" textLength="9.34" lengthAdjust="spacingAndGlyphs">140</text>
<text x="15.1" y="326.22" font-size="7.0" text-anchor="middle" fill="#3c3c3c" stroke="#3c3c3c" stroke-width="0.26" textLength="48.9" lengthAdjust="spacingAndGlyphs" transform="rotate(-90 15.1 324.4)">Serum iron (µg/dL)</text>
<polygon points="46,302.29 48.5,306.79 43.5,306.79" fill="#3a9ebf" stroke="#123f4e" stroke-width="1.0" stroke-linejoin="round"/>
<polygon points="44.5,306.33 47,310.83 42,310.83" fill="#3a9ebf" stroke="#123f4e" stroke-width="1.0" stroke-linejoin="round"/>
<polygon points="44,309.35 46.5,313.85 41.5,313.85" fill="#3a9ebf" stroke="#123f4e" stroke-width="1.0" stroke-linejoin="round"/>
<polygon points="45,311.37 47.5,315.87 42.5,315.87" fill="#3a9ebf" stroke="#123f4e" stroke-width="1.0" stroke-linejoin="round"/>
<polygon points="48,318.94 50.5,323.44 45.5,323.44" fill="#3a9ebf" stroke="#123f4e" stroke-width="1.0" stroke-linejoin="round"/>
<line x1="42" y1="310.54" x2="50" y2="310.54" stroke="#262626" stroke-width="0.8" />
<line x1="46" y1="314.07" x2="46" y2="307.52" stroke="#262626" stroke-width="0.7" />
<line x1="43.5" y1="314.07" x2="48.5" y2="314.07" stroke="#262626" stroke-width="0.7" />
<line x1="43.5" y1="307.52" x2="48.5" y2="307.52" stroke="#262626" stroke-width="0.7" />
<circle cx="62" cy="299.95" r="2.5" fill="#45aed6" stroke="#0f2f48" stroke-width="1.0"/>
<circle cx="60.5" cy="309.03" r="2.5" fill="#45aed6" stroke="#0f2f48" stroke-width="1.0"/>
<circle cx="63" cy="312.05" r="2.5" fill="#45aed6" stroke="#0f2f48" stroke-width="1.0"/>
<circle cx="60" cy="316.59" r="2.5" fill="#45aed6" stroke="#0f2f48" stroke-width="1.0"/>
<circle cx="62" cy="314.07" r="2.5" fill="#45aed6" stroke="#0f2f48" stroke-width="1.0"/>
<line x1="58" y1="310.04" x2="66" y2="310.04" stroke="#262626" stroke-width="0.8" />
<line x1="62" y1="312.56" x2="62" y2="307.52" stroke="#262626" stroke-width="0.7" />
<line x1="59.5" y1="312.56" x2="64.5" y2="312.56" stroke="#262626" stroke-width="0.7" />
<line x1="59.5" y1="307.52" x2="64.5" y2="307.52" stroke="#262626" stroke-width="0.7" />
<polygon points="77,322.47 79.5,326.97 74.5,326.97" fill="#8c1430" stroke="#3f0713" stroke-width="1.0" stroke-linejoin="round"/>
<polygon points="77.5,329.02 80,333.52 75,333.52" fill="#8c1430" stroke="#3f0713" stroke-width="1.0" stroke-linejoin="round"/>
<polygon points="79,334.06 81.5,338.56 76.5,338.56" fill="#8c1430" stroke="#3f0713" stroke-width="1.0" stroke-linejoin="round"/>
<polygon points="76.5,340.12 79,344.62 74,344.62" fill="#8c1430" stroke="#3f0713" stroke-width="1.0" stroke-linejoin="round"/>
<polygon points="79,340.62 81.5,345.12 76.5,345.12" fill="#8c1430" stroke="#3f0713" stroke-width="1.0" stroke-linejoin="round"/>
<line x1="74" y1="335.76" x2="82" y2="335.76" stroke="#262626" stroke-width="0.8" />
<line x1="78" y1="339.29" x2="78" y2="332.73" stroke="#262626" stroke-width="0.7" />
<line x1="75.5" y1="339.29" x2="80.5" y2="339.29" stroke="#262626" stroke-width="0.7" />
<line x1="75.5" y1="332.73" x2="80.5" y2="332.73" stroke="#262626" stroke-width="0.7" />
<text x="78" y="320.8" font-size="6.820000000000001" text-anchor="middle" fill="#4a4a4a" stroke="#4a4a4a" stroke-width="0.1" textLength="6.89" lengthAdjust="spacingAndGlyphs">ab</text>
<circle cx="95.5" cy="345.34" r="2.5" fill="#b0173e" stroke="#420816" stroke-width="1.0"/>
<circle cx="93" cy="351.89" r="2.5" fill="#b0173e" stroke="#420816" stroke-width="1.0"/>
<circle cx="94" cy="353.41" r="2.5" fill="#b0173e" stroke="#420816" stroke-width="1.0"/>
<circle cx="94" cy="362.99" r="2.5" fill="#b0173e" stroke="#420816" stroke-width="1.0"/>
<line x1="90" y1="353.41" x2="98" y2="353.41" stroke="#262626" stroke-width="0.8" />
<line x1="94" y1="356.43" x2="94" y2="350.88" stroke="#262626" stroke-width="0.7" />
<line x1="91.5" y1="356.43" x2="96.5" y2="356.43" stroke="#262626" stroke-width="0.7" />
<line x1="91.5" y1="350.88" x2="96.5" y2="350.88" stroke="#262626" stroke-width="0.7" />
<text x="94" y="341.3" font-size="6.820000000000001" text-anchor="middle" fill="#4a4a4a" stroke="#4a4a4a" stroke-width="0.1" textLength="9.99" lengthAdjust="spacingAndGlyphs">abc</text>
<line x1="156.4" y1="291" x2="156.4" y2="365" stroke="#141414" stroke-width="1.2" />
<line x1="155.8" y1="364.4" x2="223.4" y2="364.4" stroke="#141414" stroke-width="1.2" />
<line x1="153.4" y1="364.4" x2="156.4" y2="364.4" stroke="#141414" stroke-width="1.0" />
<text x="150.1" y="366.85" font-size="7.0" text-anchor="end" fill="#505050" stroke="#505050" stroke-width="0.12" textLength="3.11" lengthAdjust="spacingAndGlyphs">0</text>
<line x1="153.4" y1="352.72" x2="156.4" y2="352.72" stroke="#141414" stroke-width="1.0" />
<text x="150.1" y="355.17" font-size="7.0" text-anchor="end" fill="#505050" stroke="#505050" stroke-width="0.12" textLength="6.23" lengthAdjust="spacingAndGlyphs">10</text>
<line x1="153.4" y1="341.03" x2="156.4" y2="341.03" stroke="#141414" stroke-width="1.0" />
<text x="150.1" y="343.48" font-size="7.0" text-anchor="end" fill="#505050" stroke="#505050" stroke-width="0.12" textLength="6.23" lengthAdjust="spacingAndGlyphs">20</text>
<line x1="153.4" y1="329.35" x2="156.4" y2="329.35" stroke="#141414" stroke-width="1.0" />
<text x="150.1" y="331.8" font-size="7.0" text-anchor="end" fill="#505050" stroke="#505050" stroke-width="0.12" textLength="6.23" lengthAdjust="spacingAndGlyphs">30</text>
<line x1="153.4" y1="317.67" x2="156.4" y2="317.67" stroke="#141414" stroke-width="1.0" />
<text x="150.1" y="320.12" font-size="7.0" text-anchor="end" fill="#505050" stroke="#505050" stroke-width="0.12" textLength="6.23" lengthAdjust="spacingAndGlyphs">40</text>
<line x1="153.4" y1="305.98" x2="156.4" y2="305.98" stroke="#141414" stroke-width="1.0" />
<text x="150.1" y="308.43" font-size="7.0" text-anchor="end" fill="#505050" stroke="#505050" stroke-width="0.12" textLength="6.23" lengthAdjust="spacingAndGlyphs">50</text>
<line x1="153.4" y1="294.3" x2="156.4" y2="294.3" stroke="#141414" stroke-width="1.0" />
<text x="150.1" y="296.75" font-size="7.0" text-anchor="end" fill="#505050" stroke="#505050" stroke-width="0.12" textLength="6.23" lengthAdjust="spacingAndGlyphs">60</text>
<text x="135.3" y="329.42" font-size="7.0" text-anchor="middle" fill="#555" stroke="#555" stroke-width="0.25" textLength="23" lengthAdjust="spacingAndGlyphs" transform="rotate(-90 135.3 327.6)">TSAT (%)</text>
<polygon points="165.4,309.12 167.9,313.62 162.9,313.62" fill="#3a9ebf" stroke="#123f4e" stroke-width="1.0" stroke-linejoin="round"/>
<polygon points="163.9,311.46 166.4,315.96 161.4,315.96" fill="#3a9ebf" stroke="#123f4e" stroke-width="1.0" stroke-linejoin="round"/>
<polygon points="166.9,312.63 169.4,317.13 164.4,317.13" fill="#3a9ebf" stroke="#123f4e" stroke-width="1.0" stroke-linejoin="round"/>
<polygon points="165.9,330.16 168.4,334.66 163.4,334.66" fill="#3a9ebf" stroke="#123f4e" stroke-width="1.0" stroke-linejoin="round"/>
<line x1="161.4" y1="317.67" x2="169.4" y2="317.67" stroke="#262626" stroke-width="0.8" />
<line x1="165.4" y1="322.92" x2="165.4" y2="312.99" stroke="#262626" stroke-width="0.7" />
<line x1="162.9" y1="322.92" x2="167.9" y2="322.92" stroke="#262626" stroke-width="0.7" />
<line x1="162.9" y1="312.99" x2="167.9" y2="312.99" stroke="#262626" stroke-width="0.7" />
<circle cx="184.5" cy="307.15" r="2.5" fill="#45aed6" stroke="#0f2f48" stroke-width="1.0"/>
<circle cx="181.5" cy="314.16" r="2.5" fill="#45aed6" stroke="#0f2f48" stroke-width="1.0"/>
<circle cx="183.5" cy="315.33" r="2.5" fill="#45aed6" stroke="#0f2f48" stroke-width="1.0"/>
<circle cx="181.5" cy="329.35" r="2.5" fill="#45aed6" stroke="#0f2f48" stroke-width="1.0"/>
<circle cx="181" cy="334.02" r="2.5" fill="#45aed6" stroke="#0f2f48" stroke-width="1.0"/>
<line x1="178.5" y1="320.59" x2="186.5" y2="320.59" stroke="#262626" stroke-width="0.8" />
<line x1="182.5" y1="325.84" x2="182.5" y2="315.33" stroke="#262626" stroke-width="0.7" />
<line x1="180" y1="325.84" x2="185" y2="325.84" stroke="#262626" stroke-width="0.7" />
<line x1="180" y1="315.33" x2="185" y2="315.33" stroke="#262626" stroke-width="0.7" />
<polygon points="197,330.16 199.5,334.66 194.5,334.66" fill="#8c1430" stroke="#3f0713" stroke-width="1.0" stroke-linejoin="round"/>
<polygon points="198,339.5 200.5,344 195.5,344" fill="#8c1430" stroke="#3f0713" stroke-width="1.0" stroke-linejoin="round"/>
<polygon points="197,341.84 199.5,346.34 194.5,346.34" fill="#8c1430" stroke="#3f0713" stroke-width="1.0" stroke-linejoin="round"/>
<polygon points="198.5,344.18 201,348.68 196,348.68" fill="#8c1430" stroke="#3f0713" stroke-width="1.0" stroke-linejoin="round"/>
<polygon points="199,348.85 201.5,353.35 196.5,353.35" fill="#8c1430" stroke="#3f0713" stroke-width="1.0" stroke-linejoin="round"/>
<line x1="194" y1="343.37" x2="202" y2="343.37" stroke="#262626" stroke-width="0.8" />
<line x1="198" y1="345.71" x2="198" y2="339.87" stroke="#262626" stroke-width="0.7" />
<line x1="195.5" y1="345.71" x2="200.5" y2="345.71" stroke="#262626" stroke-width="0.7" />
<line x1="195.5" y1="339.87" x2="200.5" y2="339.87" stroke="#262626" stroke-width="0.7" />
<text x="198" y="329.2" font-size="6.820000000000001" text-anchor="middle" fill="#4a4a4a" stroke="#4a4a4a" stroke-width="0.1" textLength="6.89" lengthAdjust="spacingAndGlyphs">ab</text>
<circle cx="214.6" cy="338.7" r="2.5" fill="#b0173e" stroke="#420816" stroke-width="1.0"/>
<circle cx="213.1" cy="350.38" r="2.5" fill="#b0173e" stroke="#420816" stroke-width="1.0"/>
<circle cx="216.1" cy="351.55" r="2.5" fill="#b0173e" stroke="#420816" stroke-width="1.0"/>
<circle cx="214.6" cy="352.72" r="2.5" fill="#b0173e" stroke="#420816" stroke-width="1.0"/>
<circle cx="214.6" cy="363.23" r="2.5" fill="#b0173e" stroke="#420816" stroke-width="1.0"/>
<line x1="210.6" y1="351.55" x2="218.6" y2="351.55" stroke="#262626" stroke-width="0.8" />
<line x1="214.6" y1="355.05" x2="214.6" y2="349.21" stroke="#262626" stroke-width="0.7" />
<line x1="212.1" y1="355.05" x2="217.1" y2="355.05" stroke="#262626" stroke-width="0.7" />
<line x1="212.1" y1="349.21" x2="217.1" y2="349.21" stroke="#262626" stroke-width="0.7" />
<text x="214.6" y="334.6" font-size="6.820000000000001" text-anchor="middle" fill="#4a4a4a" stroke="#4a4a4a" stroke-width="0.1" textLength="9.99" lengthAdjust="spacingAndGlyphs">abc</text>
<line x1="271.5" y1="291.5" x2="271.5" y2="365.1" stroke="#141414" stroke-width="1.2" />
<line x1="270.9" y1="364.5" x2="327.3" y2="364.5" stroke="#141414" stroke-width="1.2" />
<line x1="268.5" y1="364.5" x2="271.5" y2="364.5" stroke="#141414" stroke-width="1.0" />
<text x="266.5" y="366.43" font-size="5.5" text-anchor="end" fill="#444" stroke="#444" stroke-width="0.12" textLength="7.65" lengthAdjust="spacingAndGlyphs">0.1</text>
<line x1="268.5" y1="343.33" x2="271.5" y2="343.33" stroke="#141414" stroke-width="1.0" />
<text x="266.5" y="345.26" font-size="5.5" text-anchor="end" fill="#444" stroke="#444" stroke-width="0.12" textLength="7.65" lengthAdjust="spacingAndGlyphs">1.0</text>
<line x1="268.5" y1="322.17" x2="271.5" y2="322.17" stroke="#141414" stroke-width="1.0" />
<text x="266.5" y="324.09" font-size="5.5" text-anchor="end" fill="#444" stroke="#444" stroke-width="0.12" textLength="10.7" lengthAdjust="spacingAndGlyphs">10.0</text>
<line x1="268.5" y1="301" x2="271.5" y2="301" stroke="#141414" stroke-width="1.0" />
<text x="266.5" y="302.93" font-size="5.5" text-anchor="end" fill="#444" stroke="#444" stroke-width="0.12" textLength="13.76" lengthAdjust="spacingAndGlyphs">100.0</text>
<line x1="268.5" y1="358.13" x2="271.5" y2="358.13" stroke="#141414" stroke-width="0.75" />
<line x1="268.5" y1="354.4" x2="271.5" y2="354.4" stroke="#141414" stroke-width="0.75" />
<line x1="268.5" y1="351.76" x2="271.5" y2="351.76" stroke="#141414" stroke-width="0.75" />
<line x1="268.5" y1="349.71" x2="271.5" y2="349.71" stroke="#141414" stroke-width="0.75" />
<line x1="268.5" y1="348.03" x2="271.5" y2="348.03" stroke="#141414" stroke-width="0.75" />
<line x1="268.5" y1="346.61" x2="271.5" y2="346.61" stroke="#141414" stroke-width="0.75" />
<line x1="268.5" y1="345.38" x2="271.5" y2="345.38" stroke="#141414" stroke-width="0.75" />
<line x1="268.5" y1="344.3" x2="271.5" y2="344.3" stroke="#141414" stroke-width="0.75" />
<line x1="268.5" y1="336.96" x2="271.5" y2="336.96" stroke="#141414" stroke-width="0.75" />
<line x1="268.5" y1="333.23" x2="271.5" y2="333.23" stroke="#141414" stroke-width="0.75" />
<line x1="268.5" y1="330.59" x2="271.5" y2="330.59" stroke="#141414" stroke-width="0.75" />
<line x1="268.5" y1="328.54" x2="271.5" y2="328.54" stroke="#141414" stroke-width="0.75" />
<line x1="268.5" y1="326.86" x2="271.5" y2="326.86" stroke="#141414" stroke-width="0.75" />
<line x1="268.5" y1="325.45" x2="271.5" y2="325.45" stroke="#141414" stroke-width="0.75" />
<line x1="268.5" y1="324.22" x2="271.5" y2="324.22" stroke="#141414" stroke-width="0.75" />
<line x1="268.5" y1="323.14" x2="271.5" y2="323.14" stroke="#141414" stroke-width="0.75" />
<line x1="268.5" y1="315.79" x2="271.5" y2="315.79" stroke="#141414" stroke-width="0.75" />
<line x1="268.5" y1="312.07" x2="271.5" y2="312.07" stroke="#141414" stroke-width="0.75" />
<line x1="268.5" y1="309.42" x2="271.5" y2="309.42" stroke="#141414" stroke-width="0.75" />
<line x1="268.5" y1="307.37" x2="271.5" y2="307.37" stroke="#141414" stroke-width="0.75" />
<line x1="268.5" y1="305.7" x2="271.5" y2="305.7" stroke="#141414" stroke-width="0.75" />
<line x1="268.5" y1="304.28" x2="271.5" y2="304.28" stroke="#141414" stroke-width="0.75" />
<line x1="268.5" y1="303.05" x2="271.5" y2="303.05" stroke="#141414" stroke-width="0.75" />
<line x1="268.5" y1="301.97" x2="271.5" y2="301.97" stroke="#141414" stroke-width="0.75" />
<line x1="268.5" y1="294.63" x2="271.5" y2="294.63" stroke="#141414" stroke-width="0.75" />
<text x="242.9" y="328.39" font-size="6.1" text-anchor="middle" fill="#3c3c3c" stroke="#3c3c3c" stroke-width="0.26" textLength="71.3" lengthAdjust="spacingAndGlyphs" transform="rotate(-90 242.9 326.8)">Liver <tspan font-style="italic">Hamp</tspan> mRNA (n-fold)</text>
<polygon points="279.1,336.91 281.6,341.41 276.6,341.41" fill="#3a9ebf" stroke="#123f4e" stroke-width="1.0" stroke-linejoin="round"/>
<polygon points="277.6,338.22 280.1,342.72 275.1,342.72" fill="#3a9ebf" stroke="#123f4e" stroke-width="1.0" stroke-linejoin="round"/>
<polygon points="276.6,340.63 279.1,345.13 274.1,345.13" fill="#3a9ebf" stroke="#123f4e" stroke-width="1.0" stroke-linejoin="round"/>
<polygon points="278.1,342.68 280.6,347.18 275.6,347.18" fill="#3a9ebf" stroke="#123f4e" stroke-width="1.0" stroke-linejoin="round"/>
<polygon points="277.1,347.01 279.6,351.51 274.6,351.51" fill="#3a9ebf" stroke="#123f4e" stroke-width="1.0" stroke-linejoin="round"/>
<line x1="273.6" y1="344.3" x2="281.6" y2="344.3" stroke="#262626" stroke-width="0.8" />
<line x1="277.6" y1="345.98" x2="277.6" y2="342.46" stroke="#262626" stroke-width="0.7" />
<line x1="275.1" y1="345.98" x2="280.1" y2="345.98" stroke="#262626" stroke-width="0.7" />
<line x1="275.1" y1="342.46" x2="280.1" y2="342.46" stroke="#262626" stroke-width="0.7" />
<circle cx="292" cy="325.45" r="2.5" fill="#45aed6" stroke="#0f2f48" stroke-width="1.0"/>
<circle cx="293" cy="329.51" r="2.5" fill="#45aed6" stroke="#0f2f48" stroke-width="1.0"/>
<circle cx="293.5" cy="333.23" r="2.5" fill="#45aed6" stroke="#0f2f48" stroke-width="1.0"/>
<circle cx="292" cy="342.05" r="2.5" fill="#45aed6" stroke="#0f2f48" stroke-width="1.0"/>
<line x1="289" y1="330.59" x2="297" y2="330.59" stroke="#262626" stroke-width="0.8" />
<line x1="293" y1="334.91" x2="293" y2="327.66" stroke="#262626" stroke-width="0.7" />
<line x1="290.5" y1="334.91" x2="295.5" y2="334.91" stroke="#262626" stroke-width="0.7" />
<line x1="290.5" y1="327.66" x2="295.5" y2="327.66" stroke="#262626" stroke-width="0.7" />
<text x="293" y="320" font-size="5.83" text-anchor="middle" fill="#4a4a4a" stroke="#4a4a4a" stroke-width="0.1" textLength="2.95" lengthAdjust="spacingAndGlyphs">a</text>
<polygon points="306.4,325.84 308.9,330.34 303.9,330.34" fill="#8c1430" stroke="#3f0713" stroke-width="1.0" stroke-linejoin="round"/>
<polygon points="308.4,326.81 310.9,331.31 305.9,331.31" fill="#8c1430" stroke="#3f0713" stroke-width="1.0" stroke-linejoin="round"/>
<polygon points="307.4,327.89 309.9,332.39 304.9,332.39" fill="#8c1430" stroke="#3f0713" stroke-width="1.0" stroke-linejoin="round"/>
<polygon points="307.4,335.23 309.9,339.73 304.9,339.73" fill="#8c1430" stroke="#3f0713" stroke-width="1.0" stroke-linejoin="round"/>
<line x1="303.4" y1="330.59" x2="311.4" y2="330.59" stroke="#262626" stroke-width="0.8" />
<line x1="307.4" y1="333.23" x2="307.4" y2="328.54" stroke="#262626" stroke-width="0.7" />
<line x1="304.9" y1="333.23" x2="309.9" y2="333.23" stroke="#262626" stroke-width="0.7" />
<line x1="304.9" y1="328.54" x2="309.9" y2="328.54" stroke="#262626" stroke-width="0.7" />
<text x="307.4" y="322.2" font-size="5.83" text-anchor="middle" fill="#4a4a4a" stroke="#4a4a4a" stroke-width="0.1" textLength="2.95" lengthAdjust="spacingAndGlyphs">a</text>
<circle cx="321.5" cy="297.27" r="2.5" fill="#b0173e" stroke="#420816" stroke-width="1.0"/>
<circle cx="322.5" cy="301" r="2.5" fill="#b0173e" stroke="#420816" stroke-width="1.0"/>
<circle cx="322" cy="312.07" r="2.5" fill="#b0173e" stroke="#420816" stroke-width="1.0"/>
<circle cx="321.5" cy="318.44" r="2.5" fill="#b0173e" stroke="#420816" stroke-width="1.0"/>
<circle cx="323" cy="322.17" r="2.5" fill="#b0173e" stroke="#420816" stroke-width="1.0"/>
<line x1="318.5" y1="305.7" x2="326.5" y2="305.7" stroke="#262626" stroke-width="0.8" />
<line x1="322.5" y1="310.65" x2="322.5" y2="301" stroke="#262626" stroke-width="0.7" />
<line x1="320" y1="310.65" x2="325" y2="310.65" stroke="#262626" stroke-width="0.7" />
<line x1="320" y1="301" x2="325" y2="301" stroke="#262626" stroke-width="0.7" />
<text x="322.5" y="293.3" font-size="6.38" text-anchor="middle" fill="#4a4a4a" stroke="#4a4a4a" stroke-width="0.1" textLength="9.35" lengthAdjust="spacingAndGlyphs">abc</text>
<line x1="384.6" y1="291" x2="384.6" y2="365.1" stroke="#141414" stroke-width="1.2" />
<line x1="384" y1="364.5" x2="444.6" y2="364.5" stroke="#141414" stroke-width="1.2" />
<line x1="381.6" y1="364.5" x2="384.6" y2="364.5" stroke="#141414" stroke-width="1.0" />
<text x="378.3" y="366.95" font-size="7.0" text-anchor="end" fill="#3c3c3c" stroke="#3c3c3c" stroke-width="0.12" textLength="3.11" lengthAdjust="spacingAndGlyphs">0</text>
<line x1="381.6" y1="352.8" x2="384.6" y2="352.8" stroke="#141414" stroke-width="1.0" />
<text x="378.3" y="355.25" font-size="7.0" text-anchor="end" fill="#3c3c3c" stroke="#3c3c3c" stroke-width="0.12" textLength="9.34" lengthAdjust="spacingAndGlyphs">200</text>
<line x1="381.6" y1="341.1" x2="384.6" y2="341.1" stroke="#141414" stroke-width="1.0" />
<text x="378.3" y="343.55" font-size="7.0" text-anchor="end" fill="#3c3c3c" stroke="#3c3c3c" stroke-width="0.12" textLength="9.34" lengthAdjust="spacingAndGlyphs">400</text>
<line x1="381.6" y1="329.4" x2="384.6" y2="329.4" stroke="#141414" stroke-width="1.0" />
<text x="378.3" y="331.85" font-size="7.0" text-anchor="end" fill="#3c3c3c" stroke="#3c3c3c" stroke-width="0.12" textLength="9.34" lengthAdjust="spacingAndGlyphs">600</text>
<line x1="381.6" y1="317.7" x2="384.6" y2="317.7" stroke="#141414" stroke-width="1.0" />
<text x="378.3" y="320.15" font-size="7.0" text-anchor="end" fill="#3c3c3c" stroke="#3c3c3c" stroke-width="0.12" textLength="9.34" lengthAdjust="spacingAndGlyphs">800</text>
<line x1="381.6" y1="306" x2="384.6" y2="306" stroke="#141414" stroke-width="1.0" />
<text x="378.3" y="308.45" font-size="7.0" text-anchor="end" fill="#3c3c3c" stroke="#3c3c3c" stroke-width="0.12" textLength="12.45" lengthAdjust="spacingAndGlyphs">1000</text>
<line x1="381.6" y1="294.3" x2="384.6" y2="294.3" stroke="#141414" stroke-width="1.0" />
<text x="378.3" y="296.75" font-size="7.0" text-anchor="end" fill="#3c3c3c" stroke="#3c3c3c" stroke-width="0.12" textLength="12.45" lengthAdjust="spacingAndGlyphs">1200</text>
<text x="357.2" y="327.32" font-size="7.0" text-anchor="middle" fill="#3c3c3c" stroke="#3c3c3c" stroke-width="0.26" textLength="65" lengthAdjust="spacingAndGlyphs" transform="rotate(-90 357.2 325.5)">Serum hepcidin (ng/mL)</text>
<polygon points="390.5,351.27 393,355.77 388,355.77" fill="#3a9ebf" stroke="#123f4e" stroke-width="1.0" stroke-linejoin="round"/>
<polygon points="392.5,352.44 395,356.94 390,356.94" fill="#3a9ebf" stroke="#123f4e" stroke-width="1.0" stroke-linejoin="round"/>
<polygon points="391.5,353.61 394,358.11 389,358.11" fill="#3a9ebf" stroke="#123f4e" stroke-width="1.0" stroke-linejoin="round"/>
<polygon points="390,354.19 392.5,358.69 387.5,358.69" fill="#3a9ebf" stroke="#123f4e" stroke-width="1.0" stroke-linejoin="round"/>
<polygon points="393,354.19 395.5,358.69 390.5,358.69" fill="#3a9ebf" stroke="#123f4e" stroke-width="1.0" stroke-linejoin="round"/>
<line x1="387.5" y1="355.73" x2="395.5" y2="355.73" stroke="#262626" stroke-width="0.8" />
<line x1="391.5" y1="356.31" x2="391.5" y2="355.14" stroke="#262626" stroke-width="0.7" />
<line x1="389" y1="356.31" x2="394" y2="356.31" stroke="#262626" stroke-width="0.7" />
<line x1="389" y1="355.14" x2="394" y2="355.14" stroke="#262626" stroke-width="0.7" />
<circle cx="407.4" cy="352.8" r="2.5" fill="#45aed6" stroke="#0f2f48" stroke-width="1.0"/>
<circle cx="408.4" cy="353.97" r="2.5" fill="#45aed6" stroke="#0f2f48" stroke-width="1.0"/>
<circle cx="406.4" cy="355.14" r="2.5" fill="#45aed6" stroke="#0f2f48" stroke-width="1.0"/>
<circle cx="407.4" cy="356.31" r="2.5" fill="#45aed6" stroke="#0f2f48" stroke-width="1.0"/>
<circle cx="408.4" cy="356.89" r="2.5" fill="#45aed6" stroke="#0f2f48" stroke-width="1.0"/>
<line x1="403.4" y1="355.14" x2="411.4" y2="355.14" stroke="#262626" stroke-width="0.8" />
<line x1="407.4" y1="355.73" x2="407.4" y2="354.56" stroke="#262626" stroke-width="0.7" />
<line x1="404.9" y1="355.73" x2="409.9" y2="355.73" stroke="#262626" stroke-width="0.7" />
<line x1="404.9" y1="354.56" x2="409.9" y2="354.56" stroke="#262626" stroke-width="0.7" />
<polygon points="422.9,340.16 425.4,344.66 420.4,344.66" fill="#8c1430" stroke="#3f0713" stroke-width="1.0" stroke-linejoin="round"/>
<polygon points="421.9,341.91 424.4,346.41 419.4,346.41" fill="#8c1430" stroke="#3f0713" stroke-width="1.0" stroke-linejoin="round"/>
<polygon points="423.9,344.25 426.4,348.75 421.4,348.75" fill="#8c1430" stroke="#3f0713" stroke-width="1.0" stroke-linejoin="round"/>
<polygon points="422.4,345.42 424.9,349.92 419.9,349.92" fill="#8c1430" stroke="#3f0713" stroke-width="1.0" stroke-linejoin="round"/>
<polygon points="423.4,347.18 425.9,351.68 420.9,351.68" fill="#8c1430" stroke="#3f0713" stroke-width="1.0" stroke-linejoin="round"/>
<line x1="418.9" y1="346.95" x2="426.9" y2="346.95" stroke="#262626" stroke-width="0.8" />
<line x1="422.9" y1="348.12" x2="422.9" y2="345.78" stroke="#262626" stroke-width="0.7" />
<line x1="420.4" y1="348.12" x2="425.4" y2="348.12" stroke="#262626" stroke-width="0.7" />
<line x1="420.4" y1="345.78" x2="425.4" y2="345.78" stroke="#262626" stroke-width="0.7" />
<text x="422.9" y="338" font-size="6.820000000000001" text-anchor="middle" fill="#4a4a4a" stroke="#4a4a4a" stroke-width="0.1" textLength="6.89" lengthAdjust="spacingAndGlyphs">ab</text>
<circle cx="438" cy="300.74" r="2.5" fill="#b0173e" stroke="#420816" stroke-width="1.0"/>
<circle cx="437" cy="311.26" r="2.5" fill="#b0173e" stroke="#420816" stroke-width="1.0"/>
<circle cx="437.5" cy="324.72" r="2.5" fill="#b0173e" stroke="#420816" stroke-width="1.0"/>
<circle cx="436.5" cy="327.06" r="2.5" fill="#b0173e" stroke="#420816" stroke-width="1.0"/>
<circle cx="437" cy="336.42" r="2.5" fill="#b0173e" stroke="#420816" stroke-width="1.0"/>
<line x1="434" y1="320.04" x2="442" y2="320.04" stroke="#262626" stroke-width="0.8" />
<line x1="438" y1="325.89" x2="438" y2="314.19" stroke="#262626" stroke-width="0.7" />
<line x1="435.5" y1="325.89" x2="440.5" y2="325.89" stroke="#262626" stroke-width="0.7" />
<line x1="435.5" y1="314.19" x2="440.5" y2="314.19" stroke="#262626" stroke-width="0.7" />
<text x="438" y="296.2" font-size="6.820000000000001" text-anchor="middle" fill="#4a4a4a" stroke="#4a4a4a" stroke-width="0.1" textLength="9.99" lengthAdjust="spacingAndGlyphs">abc</text>
<polygon points="452.9,309.12 455.1,313.08 450.7,313.08" fill="#3a9ebf" stroke="#123f4e" stroke-width="1.0" stroke-linejoin="round"/>
<text x="459" y="313.6" font-size="5.8" text-anchor="start" fill="#3c3c3c" stroke="#3c3c3c" stroke-width="0.08" >WT Ctr</text>
<circle cx="452.9" cy="322.4" r="2.2" fill="#45aed6" stroke="#0f2f48" stroke-width="1.0"/>
<text x="459" y="324.5" font-size="5.8" text-anchor="start" fill="#3c3c3c" stroke="#3c3c3c" stroke-width="0.08" >Fgf23<tspan font-size="4.4" dy="-2.0" fill="#555" stroke="#555" stroke-width="0.1">DMP1-cKO</tspan><tspan dy="2.0"> Ctr</tspan></text>
<polygon points="452.9,331.12 455.1,335.08 450.7,335.08" fill="#8c1430" stroke="#3f0713" stroke-width="1.0" stroke-linejoin="round"/>
<text x="459" y="335.6" font-size="5.8" text-anchor="start" fill="#3c3c3c" stroke="#3c3c3c" stroke-width="0.08" >WT IL-1β</text>
<circle cx="452.9" cy="344.2" r="2.2" fill="#b0173e" stroke="#420816" stroke-width="1.0"/>
<text x="459" y="346.3" font-size="5.8" text-anchor="start" fill="#3c3c3c" stroke="#3c3c3c" stroke-width="0.08" >Fgf23<tspan font-size="4.4" dy="-2.0" fill="#555" stroke="#555" stroke-width="0.1">DMP1-cKO</tspan><tspan dy="2.0"> IL-1β</tspan></text>
<text transform="translate(8.5 392.7) scale(0.815 1)" x="0" y="0" font-size="11.0" fill="#111" font-weight="bold">L</text>
<text transform="translate(121.12 392.7) scale(1.197 1)" x="0" y="0" font-size="11.0" fill="#111" font-weight="bold">M</text>
<text transform="translate(234.52 392.7) scale(1.190 1)" x="0" y="0" font-size="11.0" fill="#111" font-weight="bold">N</text>
<text transform="translate(350.12 392.7) scale(1.060 1)" x="0" y="0" font-size="11.0" fill="#111" font-weight="bold">O</text>
<line x1="38.6" y1="399" x2="38.6" y2="473.3" stroke="#141414" stroke-width="1.2" />
<line x1="38" y1="472.7" x2="110" y2="472.7" stroke="#141414" stroke-width="1.2" />
<line x1="35.6" y1="472.7" x2="38.6" y2="472.7" stroke="#141414" stroke-width="1.0" />
<text x="32.3" y="475.15" font-size="7.0" text-anchor="end" fill="#4a4a4a" stroke="#4a4a4a" stroke-width="0.12" textLength="3.11" lengthAdjust="spacingAndGlyphs">0</text>
<line x1="35.6" y1="460.97" x2="38.6" y2="460.97" stroke="#141414" stroke-width="1.0" />
<text x="32.3" y="463.42" font-size="7.0" text-anchor="end" fill="#4a4a4a" stroke="#4a4a4a" stroke-width="0.12" textLength="3.11" lengthAdjust="spacingAndGlyphs">1</text>
<line x1="35.6" y1="449.23" x2="38.6" y2="449.23" stroke="#141414" stroke-width="1.0" />
<text x="32.3" y="451.68" font-size="7.0" text-anchor="end" fill="#4a4a4a" stroke="#4a4a4a" stroke-width="0.12" textLength="3.11" lengthAdjust="spacingAndGlyphs">2</text>
<line x1="35.6" y1="437.5" x2="38.6" y2="437.5" stroke="#141414" stroke-width="1.0" />
<text x="32.3" y="439.95" font-size="7.0" text-anchor="end" fill="#4a4a4a" stroke="#4a4a4a" stroke-width="0.12" textLength="3.11" lengthAdjust="spacingAndGlyphs">3</text>
<line x1="35.6" y1="425.77" x2="38.6" y2="425.77" stroke="#141414" stroke-width="1.0" />
<text x="32.3" y="428.22" font-size="7.0" text-anchor="end" fill="#4a4a4a" stroke="#4a4a4a" stroke-width="0.12" textLength="3.11" lengthAdjust="spacingAndGlyphs">4</text>
<line x1="35.6" y1="414.03" x2="38.6" y2="414.03" stroke="#141414" stroke-width="1.0" />
<text x="32.3" y="416.48" font-size="7.0" text-anchor="end" fill="#4a4a4a" stroke="#4a4a4a" stroke-width="0.12" textLength="3.11" lengthAdjust="spacingAndGlyphs">5</text>
<line x1="35.6" y1="402.3" x2="38.6" y2="402.3" stroke="#141414" stroke-width="1.0" />
<text x="32.3" y="404.75" font-size="7.0" text-anchor="end" fill="#4a4a4a" stroke="#4a4a4a" stroke-width="0.12" textLength="3.11" lengthAdjust="spacingAndGlyphs">6</text>
<text x="21.5" y="435.32" font-size="7.0" text-anchor="middle" fill="#505050" stroke="#505050" stroke-width="0.3" textLength="66.6" lengthAdjust="spacingAndGlyphs" transform="rotate(-90 21.5 433.5)">Liver <tspan font-style="italic">Hamp</tspan> mRNA (n-fold)</text>
<polygon points="47,450.38 49.2,454.34 44.8,454.34" fill="#3a9ebf" stroke="#123f4e" stroke-width="1.0" stroke-linejoin="round"/>
<polygon points="47,453.9 49.2,457.86 44.8,457.86" fill="#3a9ebf" stroke="#123f4e" stroke-width="1.0" stroke-linejoin="round"/>
<polygon points="47,459.76 49.2,463.72 44.8,463.72" fill="#3a9ebf" stroke="#123f4e" stroke-width="1.0" stroke-linejoin="round"/>
<polygon points="46.5,462.11 48.7,466.07 44.3,466.07" fill="#3a9ebf" stroke="#123f4e" stroke-width="1.0" stroke-linejoin="round"/>
<polygon points="47,463.28 49.2,467.24 44.8,467.24" fill="#3a9ebf" stroke="#123f4e" stroke-width="1.0" stroke-linejoin="round"/>
<line x1="43.5" y1="460.97" x2="50.5" y2="460.97" stroke="#262626" stroke-width="0.8" />
<line x1="47" y1="462.73" x2="47" y2="458.62" stroke="#262626" stroke-width="0.7" />
<line x1="44.75" y1="462.73" x2="49.25" y2="462.73" stroke="#262626" stroke-width="0.7" />
<line x1="44.75" y1="458.62" x2="49.25" y2="458.62" stroke="#262626" stroke-width="0.7" />
<polygon points="65.3,445.86 67.5,448.06 65.3,450.26 63.09,448.06" fill="#3a9ebf" stroke="#123f4e" stroke-width="1.0"/>
<polygon points="65.3,458.76 67.5,460.97 65.3,463.17 63.09,460.97" fill="#3a9ebf" stroke="#123f4e" stroke-width="1.0"/>
<polygon points="64.3,459.94 66.5,462.14 64.3,464.34 62.09,462.14" fill="#3a9ebf" stroke="#123f4e" stroke-width="1.0"/>
<polygon points="66.3,461.11 68.5,463.31 66.3,465.52 64.09,463.31" fill="#3a9ebf" stroke="#123f4e" stroke-width="1.0"/>
<polygon points="65.3,462.28 67.5,464.49 65.3,466.69 63.09,464.49" fill="#3a9ebf" stroke="#123f4e" stroke-width="1.0"/>
<line x1="61.8" y1="459.79" x2="68.8" y2="459.79" stroke="#262626" stroke-width="0.8" />
<line x1="65.3" y1="462.73" x2="65.3" y2="456.86" stroke="#262626" stroke-width="0.7" />
<line x1="63.05" y1="462.73" x2="67.55" y2="462.73" stroke="#262626" stroke-width="0.7" />
<line x1="63.05" y1="456.86" x2="67.55" y2="456.86" stroke="#262626" stroke-width="0.7" />
<polygon points="82,424.56 84.2,428.52 79.8,428.52" fill="#8c1430" stroke="#3f0713" stroke-width="1.0" stroke-linejoin="round"/>
<polygon points="83,436.3 85.2,440.26 80.8,440.26" fill="#8c1430" stroke="#3f0713" stroke-width="1.0" stroke-linejoin="round"/>
<polygon points="84,439.82 86.2,443.78 81.8,443.78" fill="#8c1430" stroke="#3f0713" stroke-width="1.0" stroke-linejoin="round"/>
<polygon points="82.5,443.34 84.7,447.3 80.3,447.3" fill="#8c1430" stroke="#3f0713" stroke-width="1.0" stroke-linejoin="round"/>
<polygon points="83,448.03 85.2,451.99 80.8,451.99" fill="#8c1430" stroke="#3f0713" stroke-width="1.0" stroke-linejoin="round"/>
<line x1="79.5" y1="440.43" x2="86.5" y2="440.43" stroke="#262626" stroke-width="0.8" />
<line x1="83" y1="444.54" x2="83" y2="436.33" stroke="#262626" stroke-width="0.7" />
<line x1="80.75" y1="444.54" x2="85.25" y2="444.54" stroke="#262626" stroke-width="0.7" />
<line x1="80.75" y1="436.33" x2="85.25" y2="436.33" stroke="#262626" stroke-width="0.7" />
<text x="83" y="420.8" font-size="6.820000000000001" text-anchor="middle" fill="#4a4a4a" stroke="#4a4a4a" stroke-width="0.1" textLength="6.89" lengthAdjust="spacingAndGlyphs">ab</text>
<polygon points="101.3,405.96 103.5,408.17 101.3,410.37 99.09,408.17" fill="#ebb6a6" stroke="#7a2a2a" stroke-width="1.0"/>
<polygon points="99.5,414.18 101.7,416.38 99.5,418.58 97.3,416.38" fill="#ebb6a6" stroke="#7a2a2a" stroke-width="1.0"/>
<polygon points="100.8,417.69 103,419.9 100.8,422.1 98.59,419.9" fill="#ebb6a6" stroke="#7a2a2a" stroke-width="1.0"/>
<polygon points="101.6,427.08 103.8,429.29 101.6,431.49 99.39,429.29" fill="#ebb6a6" stroke="#7a2a2a" stroke-width="1.0"/>
<polygon points="102.6,432.36 104.8,434.57 102.6,436.77 100.39,434.57" fill="#ebb6a6" stroke="#7a2a2a" stroke-width="1.0"/>
<line x1="97.8" y1="423.42" x2="104.8" y2="423.42" stroke="#262626" stroke-width="0.8" />
<line x1="101.3" y1="426.94" x2="101.3" y2="417.55" stroke="#262626" stroke-width="0.7" />
<line x1="99.05" y1="426.94" x2="103.55" y2="426.94" stroke="#262626" stroke-width="0.7" />
<line x1="99.05" y1="417.55" x2="103.55" y2="417.55" stroke="#262626" stroke-width="0.7" />
<text x="101.3" y="404.3" font-size="6.820000000000001" text-anchor="middle" fill="#4a4a4a" stroke="#4a4a4a" stroke-width="0.1" textLength="9.99" lengthAdjust="spacingAndGlyphs">abc</text>
<line x1="156.5" y1="399" x2="156.5" y2="473.3" stroke="#141414" stroke-width="1.2" />
<line x1="155.9" y1="472.7" x2="216.8" y2="472.7" stroke="#141414" stroke-width="1.2" />
<line x1="153.5" y1="472.7" x2="156.5" y2="472.7" stroke="#141414" stroke-width="1.0" />
<text x="150.2" y="475.15" font-size="7.0" text-anchor="end" fill="#4a4a4a" stroke="#4a4a4a" stroke-width="0.12" textLength="3.11" lengthAdjust="spacingAndGlyphs">0</text>
<line x1="153.5" y1="460.97" x2="156.5" y2="460.97" stroke="#141414" stroke-width="1.0" />
<text x="150.2" y="463.42" font-size="7.0" text-anchor="end" fill="#4a4a4a" stroke="#4a4a4a" stroke-width="0.12" textLength="9.34" lengthAdjust="spacingAndGlyphs">200</text>
<line x1="153.5" y1="449.23" x2="156.5" y2="449.23" stroke="#141414" stroke-width="1.0" />
<text x="150.2" y="451.68" font-size="7.0" text-anchor="end" fill="#4a4a4a" stroke="#4a4a4a" stroke-width="0.12" textLength="9.34" lengthAdjust="spacingAndGlyphs">400</text>
<line x1="153.5" y1="437.5" x2="156.5" y2="437.5" stroke="#141414" stroke-width="1.0" />
<text x="150.2" y="439.95" font-size="7.0" text-anchor="end" fill="#4a4a4a" stroke="#4a4a4a" stroke-width="0.12" textLength="9.34" lengthAdjust="spacingAndGlyphs">600</text>
<line x1="153.5" y1="425.77" x2="156.5" y2="425.77" stroke="#141414" stroke-width="1.0" />
<text x="150.2" y="428.22" font-size="7.0" text-anchor="end" fill="#4a4a4a" stroke="#4a4a4a" stroke-width="0.12" textLength="9.34" lengthAdjust="spacingAndGlyphs">800</text>
<line x1="153.5" y1="414.03" x2="156.5" y2="414.03" stroke="#141414" stroke-width="1.0" />
<text x="150.2" y="416.48" font-size="7.0" text-anchor="end" fill="#4a4a4a" stroke="#4a4a4a" stroke-width="0.12" textLength="12.45" lengthAdjust="spacingAndGlyphs">1000</text>
<line x1="153.5" y1="402.3" x2="156.5" y2="402.3" stroke="#141414" stroke-width="1.0" />
<text x="150.2" y="404.75" font-size="7.0" text-anchor="end" fill="#4a4a4a" stroke="#4a4a4a" stroke-width="0.12" textLength="12.45" lengthAdjust="spacingAndGlyphs">1200</text>
<text x="129.3" y="435.02" font-size="7.0" text-anchor="middle" fill="#505050" stroke="#505050" stroke-width="0.3" textLength="64.4" lengthAdjust="spacingAndGlyphs" transform="rotate(-90 129.3 433.2)">Serum hepcidin (ng/mL)</text>
<polygon points="164,452.4 166.5,456.9 161.5,456.9" fill="#3a9ebf" stroke="#123f4e" stroke-width="1.0" stroke-linejoin="round"/>
<polygon points="165.5,455.33 168,459.83 163,459.83" fill="#3a9ebf" stroke="#123f4e" stroke-width="1.0" stroke-linejoin="round"/>
<polygon points="164,456.8 166.5,461.3 161.5,461.3" fill="#3a9ebf" stroke="#123f4e" stroke-width="1.0" stroke-linejoin="round"/>
<polygon points="163,458.27 165.5,462.77 160.5,462.77" fill="#3a9ebf" stroke="#123f4e" stroke-width="1.0" stroke-linejoin="round"/>
<polygon points="162.5,462.37 165,466.87 160,466.87" fill="#3a9ebf" stroke="#123f4e" stroke-width="1.0" stroke-linejoin="round"/>
<line x1="160" y1="459.79" x2="168" y2="459.79" stroke="#262626" stroke-width="0.8" />
<line x1="164" y1="461.55" x2="164" y2="458.03" stroke="#262626" stroke-width="0.7" />
<line x1="161.5" y1="461.55" x2="166.5" y2="461.55" stroke="#262626" stroke-width="0.7" />
<line x1="161.5" y1="458.03" x2="166.5" y2="458.03" stroke="#262626" stroke-width="0.7" />
<polygon points="178.7,450.71 181.32,453.34 178.7,455.96 176.07,453.34" fill="#3a9ebf" stroke="#123f4e" stroke-width="1.0"/>
<polygon points="180.2,453.06 182.82,455.69 180.2,458.31 177.57,455.69" fill="#3a9ebf" stroke="#123f4e" stroke-width="1.0"/>
<polygon points="177.7,455.41 180.32,458.03 177.7,460.66 175.07,458.03" fill="#3a9ebf" stroke="#123f4e" stroke-width="1.0"/>
<polygon points="179.2,457.17 181.82,459.79 179.2,462.42 176.57,459.79" fill="#3a9ebf" stroke="#123f4e" stroke-width="1.0"/>
<polygon points="180.2,458.93 182.82,461.55 180.2,464.18 177.57,461.55" fill="#3a9ebf" stroke="#123f4e" stroke-width="1.0"/>
<line x1="175.2" y1="458.03" x2="183.2" y2="458.03" stroke="#262626" stroke-width="0.8" />
<line x1="179.2" y1="459.79" x2="179.2" y2="456.27" stroke="#262626" stroke-width="0.7" />
<line x1="176.7" y1="459.79" x2="181.7" y2="459.79" stroke="#262626" stroke-width="0.7" />
<line x1="176.7" y1="456.27" x2="181.7" y2="456.27" stroke="#262626" stroke-width="0.7" />
<polygon points="193.5,420.13 196,424.63 191,424.63" fill="#8c1430" stroke="#3f0713" stroke-width="1.0" stroke-linejoin="round"/>
<polygon points="192.5,427.76 195,432.26 190,432.26" fill="#8c1430" stroke="#3f0713" stroke-width="1.0" stroke-linejoin="round"/>
<polygon points="194.5,433.04 197,437.54 192,437.54" fill="#8c1430" stroke="#3f0713" stroke-width="1.0" stroke-linejoin="round"/>
<polygon points="193.5,438.32 196,442.82 191,442.82" fill="#8c1430" stroke="#3f0713" stroke-width="1.0" stroke-linejoin="round"/>
<polygon points="193.5,451.23 196,455.73 191,455.73" fill="#8c1430" stroke="#3f0713" stroke-width="1.0" stroke-linejoin="round"/>
<text x="193.5" y="417" font-size="6.820000000000001" text-anchor="middle" fill="#4a4a4a" stroke="#4a4a4a" stroke-width="0.1" textLength="6.89" lengthAdjust="spacingAndGlyphs">ab</text>
<polygon points="209,413.75 211.62,416.38 209,419 206.38,416.38" fill="#ebb6a6" stroke="#7a2a2a" stroke-width="1.0"/>
<polygon points="210,415.51 212.62,418.14 210,420.76 207.38,418.14" fill="#ebb6a6" stroke="#7a2a2a" stroke-width="1.0"/>
<polygon points="208,417.27 210.62,419.9 208,422.52 205.38,419.9" fill="#ebb6a6" stroke="#7a2a2a" stroke-width="1.0"/>
<polygon points="209,430.18 211.62,432.81 209,435.43 206.38,432.81" fill="#ebb6a6" stroke="#7a2a2a" stroke-width="1.0"/>
<line x1="205" y1="419.9" x2="213" y2="419.9" stroke="#262626" stroke-width="0.8" />
<line x1="209" y1="423.42" x2="209" y2="416.38" stroke="#262626" stroke-width="0.7" />
<line x1="206.5" y1="423.42" x2="211.5" y2="423.42" stroke="#262626" stroke-width="0.7" />
<line x1="206.5" y1="416.38" x2="211.5" y2="416.38" stroke="#262626" stroke-width="0.7" />
<text x="209" y="411" font-size="6.820000000000001" text-anchor="middle" fill="#4a4a4a" stroke="#4a4a4a" stroke-width="0.1" textLength="9.99" lengthAdjust="spacingAndGlyphs">abc</text>
<line x1="271.3" y1="399" x2="271.3" y2="473.3" stroke="#141414" stroke-width="1.2" />
<line x1="270.7" y1="472.7" x2="335.8" y2="472.7" stroke="#141414" stroke-width="1.2" />
<line x1="268.3" y1="472.7" x2="271.3" y2="472.7" stroke="#141414" stroke-width="1.0" />
<text x="264.4" y="475.15" font-size="7.0" text-anchor="end" fill="#4a4a4a" stroke="#4a4a4a" stroke-width="0.12" textLength="3.11" lengthAdjust="spacingAndGlyphs">0</text>
<line x1="268.3" y1="464.88" x2="271.3" y2="464.88" stroke="#141414" stroke-width="1.0" />
<text x="264.4" y="467.33" font-size="7.0" text-anchor="end" fill="#4a4a4a" stroke="#4a4a4a" stroke-width="0.12" textLength="6.23" lengthAdjust="spacingAndGlyphs">20</text>
<line x1="268.3" y1="457.06" x2="271.3" y2="457.06" stroke="#141414" stroke-width="1.0" />
<text x="264.4" y="459.51" font-size="7.0" text-anchor="end" fill="#4a4a4a" stroke="#4a4a4a" stroke-width="0.12" textLength="6.23" lengthAdjust="spacingAndGlyphs">40</text>
<line x1="268.3" y1="449.23" x2="271.3" y2="449.23" stroke="#141414" stroke-width="1.0" />
<text x="264.4" y="451.68" font-size="7.0" text-anchor="end" fill="#4a4a4a" stroke="#4a4a4a" stroke-width="0.12" textLength="6.23" lengthAdjust="spacingAndGlyphs">60</text>
<line x1="268.3" y1="441.41" x2="271.3" y2="441.41" stroke="#141414" stroke-width="1.0" />
<text x="264.4" y="443.86" font-size="7.0" text-anchor="end" fill="#4a4a4a" stroke="#4a4a4a" stroke-width="0.12" textLength="6.23" lengthAdjust="spacingAndGlyphs">80</text>
<line x1="268.3" y1="433.59" x2="271.3" y2="433.59" stroke="#141414" stroke-width="1.0" />
<text x="264.4" y="436.04" font-size="7.0" text-anchor="end" fill="#4a4a4a" stroke="#4a4a4a" stroke-width="0.12" textLength="9.34" lengthAdjust="spacingAndGlyphs">100</text>
<line x1="268.3" y1="425.77" x2="271.3" y2="425.77" stroke="#141414" stroke-width="1.0" />
<text x="264.4" y="428.22" font-size="7.0" text-anchor="end" fill="#4a4a4a" stroke="#4a4a4a" stroke-width="0.12" textLength="9.34" lengthAdjust="spacingAndGlyphs">120</text>
<line x1="268.3" y1="417.94" x2="271.3" y2="417.94" stroke="#141414" stroke-width="1.0" />
<text x="264.4" y="420.39" font-size="7.0" text-anchor="end" fill="#4a4a4a" stroke="#4a4a4a" stroke-width="0.12" textLength="9.34" lengthAdjust="spacingAndGlyphs">140</text>
<line x1="268.3" y1="410.12" x2="271.3" y2="410.12" stroke="#141414" stroke-width="1.0" />
<text x="264.4" y="412.57" font-size="7.0" text-anchor="end" fill="#4a4a4a" stroke="#4a4a4a" stroke-width="0.12" textLength="9.34" lengthAdjust="spacingAndGlyphs">160</text>
<line x1="268.3" y1="402.3" x2="271.3" y2="402.3" stroke="#141414" stroke-width="1.0" />
<text x="264.4" y="404.75" font-size="7.0" text-anchor="end" fill="#4a4a4a" stroke="#4a4a4a" stroke-width="0.12" textLength="9.34" lengthAdjust="spacingAndGlyphs">180</text>
<text x="247.7" y="434.52" font-size="7.0" text-anchor="middle" fill="#505050" stroke="#505050" stroke-width="0.3" textLength="49.3" lengthAdjust="spacingAndGlyphs" transform="rotate(-90 247.7 432.7)">Serum iron (µg/dL)</text>
<polygon points="279,407.69 281.25,411.74 276.75,411.74" fill="#3a9ebf" stroke="#123f4e" stroke-width="1.0" stroke-linejoin="round"/>
<polygon points="280,410.82 282.25,414.87 277.75,414.87" fill="#3a9ebf" stroke="#123f4e" stroke-width="1.0" stroke-linejoin="round"/>
<polygon points="278,413.56 280.25,417.61 275.75,417.61" fill="#3a9ebf" stroke="#123f4e" stroke-width="1.0" stroke-linejoin="round"/>
<polygon points="280,416.3 282.25,420.35 277.75,420.35" fill="#3a9ebf" stroke="#123f4e" stroke-width="1.0" stroke-linejoin="round"/>
<polygon points="278,419.43 280.25,423.48 275.75,423.48" fill="#3a9ebf" stroke="#123f4e" stroke-width="1.0" stroke-linejoin="round"/>
<line x1="275" y1="415.99" x2="283" y2="415.99" stroke="#262626" stroke-width="0.8" />
<line x1="279" y1="418.73" x2="279" y2="413.25" stroke="#262626" stroke-width="0.7" />
<line x1="276.5" y1="418.73" x2="281.5" y2="418.73" stroke="#262626" stroke-width="0.7" />
<line x1="276.5" y1="413.25" x2="281.5" y2="413.25" stroke="#262626" stroke-width="0.7" />
<polygon points="293.6,405.02 295.96,407.38 293.6,409.75 291.24,407.38" fill="#3a9ebf" stroke="#123f4e" stroke-width="1.0"/>
<polygon points="295.6,413.63 297.96,415.99 295.6,418.35 293.24,415.99" fill="#3a9ebf" stroke="#123f4e" stroke-width="1.0"/>
<polygon points="294.6,415.58 296.96,417.94 294.6,420.31 292.24,417.94" fill="#3a9ebf" stroke="#123f4e" stroke-width="1.0"/>
<polygon points="294.6,421.45 296.96,423.81 294.6,426.17 292.24,423.81" fill="#3a9ebf" stroke="#123f4e" stroke-width="1.0"/>
<polygon points="295.6,426.14 297.96,428.5 295.6,430.87 293.24,428.5" fill="#3a9ebf" stroke="#123f4e" stroke-width="1.0"/>
<line x1="290.6" y1="418.73" x2="298.6" y2="418.73" stroke="#262626" stroke-width="0.8" />
<line x1="294.6" y1="421.86" x2="294.6" y2="415.6" stroke="#262626" stroke-width="0.7" />
<line x1="292.1" y1="421.86" x2="297.1" y2="421.86" stroke="#262626" stroke-width="0.7" />
<line x1="292.1" y1="415.6" x2="297.1" y2="415.6" stroke="#262626" stroke-width="0.7" />
<polygon points="309.8,449.15 312.05,453.2 307.55,453.2" fill="#8c1430" stroke="#3f0713" stroke-width="1.0" stroke-linejoin="round"/>
<polygon points="311.8,449.54 314.05,453.59 309.55,453.59" fill="#8c1430" stroke="#3f0713" stroke-width="1.0" stroke-linejoin="round"/>
<polygon points="310.8,449.93 313.05,453.98 308.55,453.98" fill="#8c1430" stroke="#3f0713" stroke-width="1.0" stroke-linejoin="round"/>
<polygon points="312.3,449.93 314.55,453.98 310.05,453.98" fill="#8c1430" stroke="#3f0713" stroke-width="1.0" stroke-linejoin="round"/>
<polygon points="309.3,449.93 311.55,453.98 307.05,453.98" fill="#8c1430" stroke="#3f0713" stroke-width="1.0" stroke-linejoin="round"/>
<line x1="306.8" y1="451.97" x2="314.8" y2="451.97" stroke="#262626" stroke-width="0.8" />
<line x1="310.8" y1="452.75" x2="310.8" y2="451.19" stroke="#262626" stroke-width="0.7" />
<line x1="308.3" y1="452.75" x2="313.3" y2="452.75" stroke="#262626" stroke-width="0.7" />
<line x1="308.3" y1="451.19" x2="313.3" y2="451.19" stroke="#262626" stroke-width="0.7" />
<text x="310.8" y="444.2" font-size="6.820000000000001" text-anchor="middle" fill="#4a4a4a" stroke="#4a4a4a" stroke-width="0.1" textLength="6.89" lengthAdjust="spacingAndGlyphs">ab</text>
<polygon points="326.9,456.26 329.26,458.62 326.9,460.98 324.54,458.62" fill="#ebb6a6" stroke="#7a2a2a" stroke-width="1.0"/>
<polygon points="327.9,457.43 330.26,459.79 327.9,462.16 325.54,459.79" fill="#ebb6a6" stroke="#7a2a2a" stroke-width="1.0"/>
<polygon points="325.9,457.82 328.26,460.18 325.9,462.55 323.54,460.18" fill="#ebb6a6" stroke="#7a2a2a" stroke-width="1.0"/>
<polygon points="326.9,458.6 329.26,460.97 326.9,463.33 324.54,460.97" fill="#ebb6a6" stroke="#7a2a2a" stroke-width="1.0"/>
<line x1="322.9" y1="459.79" x2="330.9" y2="459.79" stroke="#262626" stroke-width="0.8" />
<line x1="326.9" y1="460.58" x2="326.9" y2="459.01" stroke="#262626" stroke-width="0.7" />
<line x1="324.4" y1="460.58" x2="329.4" y2="460.58" stroke="#262626" stroke-width="0.7" />
<line x1="324.4" y1="459.01" x2="329.4" y2="459.01" stroke="#262626" stroke-width="0.7" />
<text x="326.9" y="453" font-size="6.820000000000001" text-anchor="middle" fill="#4a4a4a" stroke="#4a4a4a" stroke-width="0.1" textLength="9.99" lengthAdjust="spacingAndGlyphs">abc</text>
<line x1="384.6" y1="399" x2="384.6" y2="473.3" stroke="#141414" stroke-width="1.2" />
<line x1="384" y1="472.7" x2="453" y2="472.7" stroke="#141414" stroke-width="1.2" />
<line x1="381.6" y1="472.7" x2="384.6" y2="472.7" stroke="#141414" stroke-width="1.0" />
<text x="378.3" y="475.15" font-size="7.0" text-anchor="end" fill="#4a4a4a" stroke="#4a4a4a" stroke-width="0.12" textLength="3.11" lengthAdjust="spacingAndGlyphs">0</text>
<line x1="381.6" y1="462.64" x2="384.6" y2="462.64" stroke="#141414" stroke-width="1.0" />
<text x="378.3" y="465.09" font-size="7.0" text-anchor="end" fill="#4a4a4a" stroke="#4a4a4a" stroke-width="0.12" textLength="6.23" lengthAdjust="spacingAndGlyphs">10</text>
<line x1="381.6" y1="452.59" x2="384.6" y2="452.59" stroke="#141414" stroke-width="1.0" />
<text x="378.3" y="455.04" font-size="7.0" text-anchor="end" fill="#4a4a4a" stroke="#4a4a4a" stroke-width="0.12" textLength="6.23" lengthAdjust="spacingAndGlyphs">20</text>
<line x1="381.6" y1="442.53" x2="384.6" y2="442.53" stroke="#141414" stroke-width="1.0" />
<text x="378.3" y="444.98" font-size="7.0" text-anchor="end" fill="#4a4a4a" stroke="#4a4a4a" stroke-width="0.12" textLength="6.23" lengthAdjust="spacingAndGlyphs">30</text>
<line x1="381.6" y1="432.47" x2="384.6" y2="432.47" stroke="#141414" stroke-width="1.0" />
<text x="378.3" y="434.92" font-size="7.0" text-anchor="end" fill="#4a4a4a" stroke="#4a4a4a" stroke-width="0.12" textLength="6.23" lengthAdjust="spacingAndGlyphs">40</text>
<line x1="381.6" y1="422.41" x2="384.6" y2="422.41" stroke="#141414" stroke-width="1.0" />
<text x="378.3" y="424.86" font-size="7.0" text-anchor="end" fill="#4a4a4a" stroke="#4a4a4a" stroke-width="0.12" textLength="6.23" lengthAdjust="spacingAndGlyphs">50</text>
<line x1="381.6" y1="412.36" x2="384.6" y2="412.36" stroke="#141414" stroke-width="1.0" />
<text x="378.3" y="414.81" font-size="7.0" text-anchor="end" fill="#4a4a4a" stroke="#4a4a4a" stroke-width="0.12" textLength="6.23" lengthAdjust="spacingAndGlyphs">60</text>
<line x1="381.6" y1="402.3" x2="384.6" y2="402.3" stroke="#141414" stroke-width="1.0" />
<text x="378.3" y="404.75" font-size="7.0" text-anchor="end" fill="#4a4a4a" stroke="#4a4a4a" stroke-width="0.12" textLength="6.23" lengthAdjust="spacingAndGlyphs">70</text>
<text x="363.6" y="436.02" font-size="7.0" text-anchor="middle" fill="#505050" stroke="#505050" stroke-width="0.3" textLength="20.5" lengthAdjust="spacingAndGlyphs" transform="rotate(-90 363.6 434.2)">TSAT (%)</text>
<polygon points="393.6,411.94 395.85,415.99 391.35,415.99" fill="#3a9ebf" stroke="#123f4e" stroke-width="1.0" stroke-linejoin="round"/>
<polygon points="391.6,414.96 393.85,419.01 389.35,419.01" fill="#3a9ebf" stroke="#123f4e" stroke-width="1.0" stroke-linejoin="round"/>
<polygon points="392.6,417.97 394.85,422.02 390.35,422.02" fill="#3a9ebf" stroke="#123f4e" stroke-width="1.0" stroke-linejoin="round"/>
<polygon points="391.6,419.98 393.85,424.03 389.35,424.03" fill="#3a9ebf" stroke="#123f4e" stroke-width="1.0" stroke-linejoin="round"/>
<polygon points="392.6,422 394.85,426.05 390.35,426.05" fill="#3a9ebf" stroke="#123f4e" stroke-width="1.0" stroke-linejoin="round"/>
<line x1="388.6" y1="419.4" x2="396.6" y2="419.4" stroke="#262626" stroke-width="0.8" />
<line x1="392.6" y1="421.41" x2="392.6" y2="417.39" stroke="#262626" stroke-width="0.7" />
<line x1="390.1" y1="421.41" x2="395.1" y2="421.41" stroke="#262626" stroke-width="0.7" />
<line x1="390.1" y1="417.39" x2="395.1" y2="417.39" stroke="#262626" stroke-width="0.7" />
<polygon points="410.3,407.98 412.66,410.35 410.3,412.71 407.94,410.35" fill="#3a9ebf" stroke="#123f4e" stroke-width="1.0"/>
<polygon points="411.3,418.04 413.66,420.4 411.3,422.77 408.94,420.4" fill="#3a9ebf" stroke="#123f4e" stroke-width="1.0"/>
<polygon points="409.3,420.05 411.66,422.41 409.3,424.78 406.94,422.41" fill="#3a9ebf" stroke="#123f4e" stroke-width="1.0"/>
<polygon points="410.3,423.07 412.66,425.43 410.3,427.79 407.94,425.43" fill="#3a9ebf" stroke="#123f4e" stroke-width="1.0"/>
<polygon points="410.3,428.1 412.66,430.46 410.3,432.82 407.94,430.46" fill="#3a9ebf" stroke="#123f4e" stroke-width="1.0"/>
<line x1="406.3" y1="422.41" x2="414.3" y2="422.41" stroke="#262626" stroke-width="0.8" />
<line x1="410.3" y1="426.44" x2="410.3" y2="418.39" stroke="#262626" stroke-width="0.7" />
<line x1="407.8" y1="426.44" x2="412.8" y2="426.44" stroke="#262626" stroke-width="0.7" />
<line x1="407.8" y1="418.39" x2="412.8" y2="418.39" stroke="#262626" stroke-width="0.7" />
<polygon points="427.3,442.11 429.55,446.16 425.05,446.16" fill="#8c1430" stroke="#3f0713" stroke-width="1.0" stroke-linejoin="round"/>
<polygon points="428.3,445.13 430.55,449.18 426.05,449.18" fill="#8c1430" stroke="#3f0713" stroke-width="1.0" stroke-linejoin="round"/>
<polygon points="426.3,448.14 428.55,452.19 424.05,452.19" fill="#8c1430" stroke="#3f0713" stroke-width="1.0" stroke-linejoin="round"/>
<polygon points="427.3,450.16 429.55,454.21 425.05,454.21" fill="#8c1430" stroke="#3f0713" stroke-width="1.0" stroke-linejoin="round"/>
<polygon points="426.3,452.17 428.55,456.22 424.05,456.22" fill="#8c1430" stroke="#3f0713" stroke-width="1.0" stroke-linejoin="round"/>
<line x1="423.3" y1="450.57" x2="431.3" y2="450.57" stroke="#262626" stroke-width="0.8" />
<line x1="427.3" y1="452.59" x2="427.3" y2="448.56" stroke="#262626" stroke-width="0.7" />
<line x1="424.8" y1="452.59" x2="429.8" y2="452.59" stroke="#262626" stroke-width="0.7" />
<line x1="424.8" y1="448.56" x2="429.8" y2="448.56" stroke="#262626" stroke-width="0.7" />
<text x="427.3" y="438.2" font-size="6.820000000000001" text-anchor="middle" fill="#4a4a4a" stroke="#4a4a4a" stroke-width="0.1" textLength="6.89" lengthAdjust="spacingAndGlyphs">ab</text>
<polygon points="443.5,455.25 445.86,457.61 443.5,459.98 441.14,457.61" fill="#ebb6a6" stroke="#7a2a2a" stroke-width="1.0"/>
<polygon points="444.5,457.26 446.86,459.63 444.5,461.99 442.14,459.63" fill="#ebb6a6" stroke="#7a2a2a" stroke-width="1.0"/>
<polygon points="442.5,458.27 444.86,460.63 442.5,462.99 440.14,460.63" fill="#ebb6a6" stroke="#7a2a2a" stroke-width="1.0"/>
<polygon points="443.5,459.27 445.86,461.64 443.5,464 441.14,461.64" fill="#ebb6a6" stroke="#7a2a2a" stroke-width="1.0"/>
<line x1="439.5" y1="460.63" x2="447.5" y2="460.63" stroke="#262626" stroke-width="0.8" />
<line x1="443.5" y1="461.64" x2="443.5" y2="459.63" stroke="#262626" stroke-width="0.7" />
<line x1="441" y1="461.64" x2="446" y2="461.64" stroke="#262626" stroke-width="0.7" />
<line x1="441" y1="459.63" x2="446" y2="459.63" stroke="#262626" stroke-width="0.7" />
<text x="443.5" y="453" font-size="6.820000000000001" text-anchor="middle" fill="#4a4a4a" stroke="#4a4a4a" stroke-width="0.1" textLength="9.99" lengthAdjust="spacingAndGlyphs">abc</text>
<polygon points="458.3,399.82 460.5,403.78 456.1,403.78" fill="#3a9ebf" stroke="#123f4e" stroke-width="1.0" stroke-linejoin="round"/>
<text x="464" y="404.3" font-size="5.8" text-anchor="start" fill="#3c3c3c" stroke="#3c3c3c" stroke-width="0.08" >WT Ctr</text>
<polygon points="458.3,410.69 460.61,413 458.3,415.31 455.99,413" fill="#3a9ebf" stroke="#123f4e" stroke-width="1.0"/>
<text x="464" y="415.1" font-size="5.8" text-anchor="start" fill="#3c3c3c" stroke="#3c3c3c" stroke-width="0.08" >Furin<tspan font-size="4.4" dy="-2.0" fill="#555" stroke="#555" stroke-width="0.1">DMP1-cKO</tspan><tspan dy="2.0"> Ctr</tspan></text>
<polygon points="458.3,421.92 460.5,425.88 456.1,425.88" fill="#8c1430" stroke="#3f0713" stroke-width="1.0" stroke-linejoin="round"/>
<text x="464" y="426.4" font-size="5.8" text-anchor="start" fill="#3c3c3c" stroke="#3c3c3c" stroke-width="0.08" >WT IL-1β</text>
<polygon points="458.3,432.79 460.61,435.1 458.3,437.41 455.99,435.1" fill="#ebb6a6" stroke="#7a2a2a" stroke-width="1.0"/>
<text x="464" y="437.2" font-size="5.8" text-anchor="start" fill="#3c3c3c" stroke="#3c3c3c" stroke-width="0.08" >Furin<tspan font-size="4.4" dy="-2.0" fill="#555" stroke="#555" stroke-width="0.1">DMP1-cKO</tspan><tspan dy="2.0"> IL-1β</tspan></text>
<rect x="0.5" y="0.5" width="519" height="482" fill="none" stroke="#555" stroke-width="1"/>
<line x1="519.5" y1="0" x2="519.5" y2="483" stroke="#444" stroke-width="1"/><line x1="0" y1="482.5" x2="520" y2="482.5" stroke="#444" stroke-width="1"/>
</svg>
</body></html>
